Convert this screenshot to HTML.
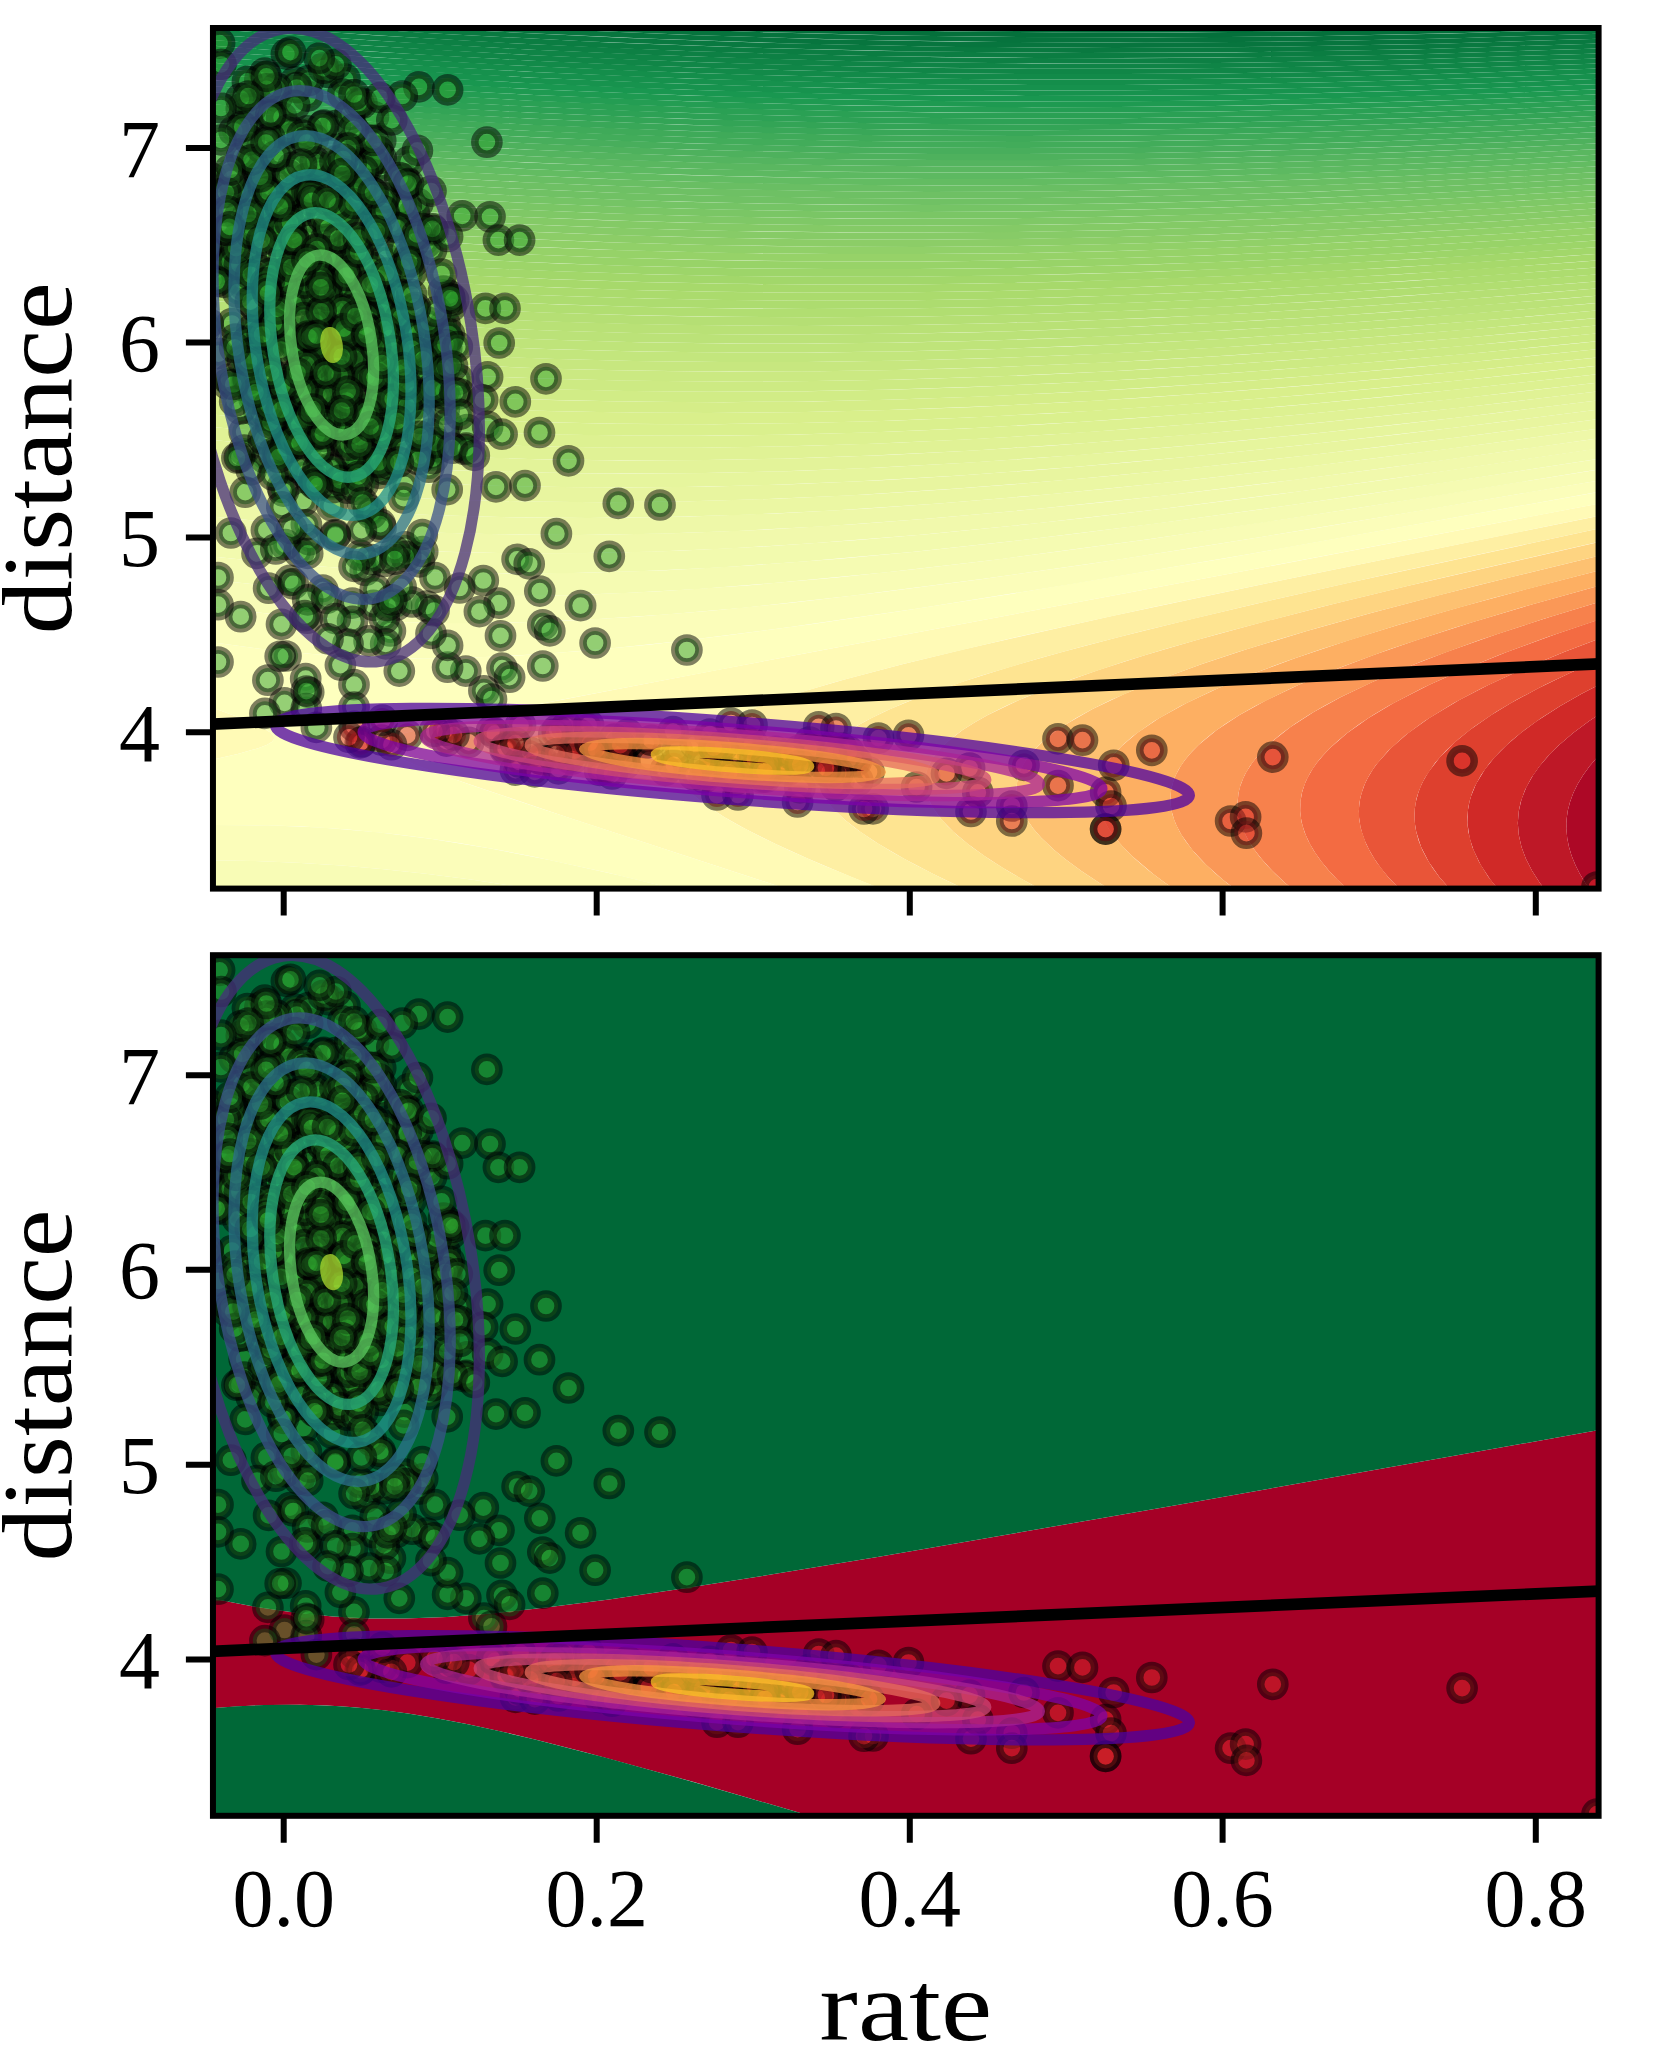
<!DOCTYPE html><html><head><meta charset="utf-8"><title>rate vs distance</title><style>html,body{margin:0;padding:0;background:#fff;}svg{display:block;}</style></head><body><svg width="1655" height="2061" viewBox="0 0 1655 2061"><defs><clipPath id="cA"><rect x="212.95" y="28.00" width="1385.65" height="860.60"/></clipPath></defs><rect width="1655" height="2061" fill="#fff"/><g clip-path="url(#cA)"><path fill="#ad0826" d="M1605 749.3 1605 895 1593.9 895 1585.4 883 1579.9 874 1575.4 865 1571.7 856 1569 847 1567.2 838 1566.4 829 1566.5 820 1567.7 811 1570 802 1573.3 793 1577.7 784 1583.2 775 1589.7 766 1597.4 757Z"/><path fill="#be1827" d="M1605 710.5 1605 749.3 1597.4 757 1589.7 766 1583.2 775 1577.7 784 1573.3 793 1570 802 1567.7 811 1566.5 820 1566.4 829 1567.2 838 1569 847 1571.7 856 1575.4 865 1579.9 874 1585.4 883 1593.9 895 1549.2 895 1539.9 883 1532.2 871 1526 859 1521.5 847 1518.8 835 1517.8 823 1518.8 811 1521.6 799 1526.4 787 1533.2 775 1539.6 766 1550 754 1560 744.3 1573.1 733 1589.2 721Z"/><path fill="#d02927" d="M1605 681.7 1605 710.5 1589.2 721 1573.1 733 1559.1 745 1547.2 757 1539 766.9 1531.3 778 1525 790 1520.7 802 1518.8 811 1517.8 823 1518.8 835 1521.5 847 1526 859 1532.2 871 1539.9 883 1549.2 895 1502.9 895 1490.6 880 1480.7 865 1473.5 850 1469.6 838 1467.4 823 1467.8 811 1469.4 802 1471.1 796 1476 784 1485.1 769 1494.8 757 1506.7 745 1520.7 733 1536.9 721 1560.2 706 1581.2 694Z"/><path fill="#de402e" d="M1604.9 657.6 1605 681.7 1581.2 694 1560.2 706 1541.3 718 1524.6 730 1512 740.3 1500.5 751 1489.7 763 1481.1 775 1474.6 787 1472.1 793 1469.4 802 1468.2 808 1467.4 817 1467.4 823 1468.4 832 1472.3 847 1479.1 862 1488.4 877 1502.9 895 1455.1 895 1439.3 877 1428.8 862 1421.1 847 1416.3 832 1414.8 823 1414.4 817 1414.9 808 1415.8 802 1418.2 793 1420.4 787 1423.2 781 1428.5 772 1440 757 1455 742.1 1469.7 730 1491.2 715 1510.9 703 1538.7 688 1569.8 673Z"/><path fill="#e95538" d="M1605 636.6 1604.9 657.6 1576.4 670 1544.6 685 1516.2 700 1495.9 712 1473.8 727 1458.6 739 1445.6 751 1435 763 1424.9 778 1421.8 784 1418.2 793 1416.4 799 1414.9 808 1414.4 817 1415.2 826 1416.3 832 1418.8 841 1422.4 850 1427.1 859 1432.7 868 1439.3 877 1455.1 895 1405.4 895 1388.1 877 1380.8 868 1374.5 859 1369.2 850 1364.9 841 1361.8 832 1360.3 826 1359 817 1359 808 1360.1 799 1361.6 793 1364.8 784 1367.7 778 1373.1 769 1377.5 763 1391 748 1408.2 733 1429.2 718 1459.2 700 1488.2 685 1520.7 670 1564.1 652Z"/><path fill="#f36b42" d="M1602 618.6 1605 617.6 1605 636.6 1564.1 652 1520.7 670 1482.2 688 1453.9 703 1424.7 721 1404.5 736 1388 751 1375.2 766 1369.4 775 1366.2 781 1363.6 787 1360.8 796 1359.6 802 1358.9 811 1359.3 820 1361 829 1366.2 844 1370.9 853 1376.5 862 1388.1 877 1405.4 895 1353.6 895 1337.6 880 1329.2 871 1321.7 862 1315.3 853 1309.9 844 1305.7 835 1302.6 826 1300.7 817 1300.2 811 1300.4 802 1301.9 793 1304.7 784 1307.4 778 1312.5 769 1316.7 763 1323 755.4 1330 748 1347.3 733 1368.5 718 1393.6 703 1428.8 685 1462.2 670 1506.8 652 1556.2 634Z"/><path fill="#f7814c" d="M1605 600.2 1605 617.6 1547.6 637 1499.1 655 1455.2 673 1422.6 688 1388.3 706 1373.2 715 1359.5 724 1347.3 733 1338 740.7 1330 748 1321.6 757 1316.7 763 1310.7 772 1306 781 1302.7 790 1301.2 796 1300.2 805 1300.4 814 1301.8 823 1304.5 832 1308.4 841 1313.4 850 1319.5 859 1326.6 868 1334.7 877 1353.6 895 1299.6 895 1285.2 883 1272.5 871 1261.6 859 1254.6 850 1248.8 841 1244.1 832 1240.6 823 1239 817 1237.7 808 1237.6 802 1238.5 793 1239.9 787 1243.3 778 1246.3 772 1252.1 763 1256.8 757 1263 750.2 1271.5 742 1290.5 727 1313.7 712 1341 697 1372.3 682 1407.5 667 1446.3 652 1497.3 634 1552.8 616Z"/><path fill="#fa9857" d="M1599 585.7 1605 584 1605 600.2 1543.3 619 1479.8 640 1422.6 661 1379.1 679 1341 697 1324.1 706 1308.7 715 1294.8 724 1282.4 733 1271.5 742 1262.2 751 1256.8 757 1250 766 1244.7 775 1240.9 784 1238.5 793 1237.6 802 1238 811 1239.7 820 1242.8 829 1247.1 838 1252.5 847 1259.1 856 1266.8 865 1275.5 874 1285.2 883 1299.6 895 1242.8 895 1223.2 880 1206.3 865 1192.3 850 1181.5 835 1176.7 826 1174.2 820 1171.6 811 1170.7 805 1170.4 796 1171.1 790 1173.4 781 1175.8 775 1180.7 766 1184.9 760 1191 752.7 1198.5 745 1216.7 730 1239.5 715 1266.7 700 1298.3 685 1334 670 1373.6 655 1416.8 640 1472.9 622 1533.4 604Z"/><path fill="#fdaf62" d="M1598.9 570.4 1604.9 568.9 1605 584 1523 607 1453.7 628 1390.4 649 1341.6 667 1312.1 679 1291.7 688 1255.3 706 1239.5 715 1225.3 724 1212.7 733 1201.8 742 1192.5 751 1184.9 760 1178.9 769 1174.5 778 1171.7 787 1170.4 796 1170.7 805 1172.3 814 1175.4 823 1179.8 832 1185.5 841 1194.9 853 1203.3 862 1216.1 874 1226.9 883 1242.8 895 1182.9 895 1165.3 883 1153.2 874 1132 856 1123 847 1115.3 838 1108.8 829 1103.8 820 1100.1 811 1098.5 805 1097.3 796 1097.5 790 1099 781 1101 775 1105.5 766 1109.4 760 1114.1 754 1122 745.7 1137 733 1159.3 718 1186.5 703 1218.5 688 1254.9 673 1295.6 658 1349.3 640 1398 625 1460.4 607 1526.7 589Z"/><path fill="#fdc171" d="M1599 555.8 1605 554.4 1604.9 568.9 1493.1 598 1398 625 1321.8 649 1287.1 661 1254.9 673 1211.8 691 1180.7 706 1154.4 721 1133.1 736 1122.7 745 1114.1 754 1107.3 763 1102.3 772 1099 781 1097.5 790 1097.5 799 1100.1 811 1103.8 820 1108.8 829 1115.3 838 1125.9 850 1135.2 859 1149.3 871 1165.3 883 1182.9 895 1119.3 895 1099.5 883 1081.4 871 1065.1 859 1054.2 850 1041.5 838 1033.6 829 1025.1 817 1020.6 808 1017.7 799 1016.8 793 1016.8 784 1017.8 778 1021 769 1024.1 763 1028.2 757 1033.1 751 1045.6 739 1056 731.1 1066.4 724 1092.6 709 1124.2 694 1160.8 679 1202 664 1247.4 649 1306.8 631 1371.1 613 1439.4 595 1511.2 577Z"/><path fill="#fed481" d="M1605 540.5 1605 554.4 1474.9 586 1371.1 613 1317.2 628 1276.5 640 1238 652 1202 664 1153.1 682 1110.9 700 1092.6 709 1076.2 718 1065 724.9 1053.3 733 1042.2 742 1033.1 751 1026 760 1021 769 1017.8 778 1016.6 787 1017.2 796 1018.5 802 1020.6 808 1025.1 817 1033.6 829 1041.5 838 1054.2 850 1065.1 859 1081.4 871 1099.5 883 1119.3 895 1051.1 895 1023.4 880 1003 868 984.4 856 967.9 844 953.6 832 941.9 820 933 808 928.4 799 925.7 790 925 784 925.7 775 927.3 769 931.6 760 935.8 754 940.9 748 947.1 742 962.6 730 975 722.2 987.8 715 1019.1 700 1056.1 685 1098.4 670 1145.4 655 1196.6 640 1262.7 622 1333.1 604 1407.2 586Z"/><path fill="#fee491" d="M1599 528.6 1605 527.3 1605 540.5 1432.6 580 1321.1 607 1218.1 634 1165.4 649 1126.1 661 1072.4 679 1026 697 1005.8 706 987.8 715 975 722.2 962.6 730 950.6 739 940.9 748 933.6 757 928.5 766 925.7 775 925 784 926.4 793 928.4 799 931.3 805 937.1 814 947.4 826 957 835 971.8 847 988.9 859 1008 871 1028.8 883 1051.1 895 977.4 895 964.4 889 933.2 874 904.5 859 878.7 844 860.5 832 845 820 832.4 808 827.3 802 823.2 796 818.7 787 816.7 778 816.6 772 817.8 766 820.1 760 823.7 754 828.5 748 834.5 742 841.9 736 860.3 724 871.4 718 890.2 709 919.3 697 961.5 682 1009.3 667 1062 652 1118.8 637 1191.4 619 1267.9 601 1347.5 583Z"/><path fill="#feefa3" d="M1596 516.4 1605 514.6 1605 527.3 1388.3 574 1254.9 604 1142.5 631 1084.3 646 1040.4 658 980 676 927.3 694 904.2 703 883.7 712 865.7 721 855.2 727 841.9 736 831.4 745 823.7 754 818.8 763 816.6 772 817.1 781 820 790 825.1 799 832.4 808 845 820 856.4 829 874 841 893.8 853 915.7 865 945.4 880 977.4 895 896.4 895 851.3 877 808.7 859 775.6 844 745.5 829 724.1 817 705.7 805 691 793 685.3 787 680.8 781 676.6 772 675.7 766 676.3 760 678.6 754 682.6 748 691.9 739 700.4 733 710.6 727 736 715 767.6 703 804.6 691 846.2 679 903.3 664 965 649 1111.7 616 1282.9 580Z"/><path fill="#fffab6" d="M1593 504.7 1605 502.5 1605 514.6 1297.6 577 1153.7 607 1016.8 637 903.3 664 835.4 682 785.5 697 743.4 712 722.5 721 710.6 727 699 734 688.4 742 680.4 751 678.6 754 676.3 760 675.8 763 676 769 679.1 778 685.3 787 694.3 796 705.7 805 724.1 817 739.9 826 763.2 838 788.5 850 822.5 865 896.4 895 805.3 895 566.5 817 450.9 778 418.2 766 396.9 757 386.6 751 383.5 748 382.5 745 384.2 742 388.6 739 395.7 736 405.1 733 441.5 724 514 709 717 670 1299 560.7ZM208.1 706 240.6 718 261.5 727 271.2 733 273.8 736 274.1 739 271.8 742 266.6 745 258.9 748 237.7 754 206.9 761 206.9 705.6Z"/><path fill="#feffbe" d="M1593 492.9 1605 490.7 1605 502.5 1302 560.1 796.4 655 560 700 484.2 715 441.5 724 405.1 733 395.7 736 388.6 739 384.2 742 382.5 745 383.5 748 386.6 751 391.2 754 403.5 760 426 769 468.1 784 539.3 808 805.3 895 699.2 895 609 872.9 534 856.7 494.9 849.2 458.9 843.1 428.9 838.6 392.9 833.9 347.9 829.5 302.9 826.5 254.9 825 206.9 825.1 206.9 761 237.7 754 258.9 748 266.6 745 271.8 742 274.1 739 273.8 736 271.2 733 261.5 727 240.6 718 206.9 705.6 206.9 641.6 257.9 648.6 311.9 654 362.9 657.2 413.9 658.4 467.9 657.7 522 655.3 585 650.8 651 644.4 726 635.6 813 623.9 903 610.7 1014 593.4 1224 558.5Z"/><path fill="#fbfdba" d="M1596 481 1605 479.4 1605 490.7 1248 554.3 1071 584.2 918 608.5 792 626.8 681 641 612 648.3 543 654 480 657.3 422.9 658.4 368.9 657.4 314.9 654.3 263.9 649.3 206.9 641.6 206.9 606.5 266.9 613.5 323.9 618.4 383.9 621.7 443.9 623.1 504 622.8 570 620.6 636 616.8 711 610.8 792 602.7 879 592.6 981 579.2 1089 563.9 1188 548.7 1317 527.9ZM209.9 825 266.9 825.2 320.9 827.5 377.9 832.3 431.9 839 488.9 848.2 552 860.4 621 875.7 699.2 895 566.6 895 519 886.8 470.9 879.5 425.9 873.7 383.9 869.2 341.9 865.5 296.9 862.7 251.9 860.9 206.9 860.1 206.9 825.1Z"/><path fill="#f8fcb6" d="M1602 468.9 1605 468.4 1605 479.4 1428 509.5 1266 536.2 1116 559.9 984 578.8 852 595.8 744 607.7 666 614.6 591 619.5 522 622.3 458.9 623.2 392.9 622 329.9 618.8 270 613.8 206.9 606.5 206.9 579.3 281.9 587.1 353.9 592.3 425.9 595.3 500.9 596.2 579 594.9 660 591.3 747 585.4 837 577.4 912 569.5 987 560.8 1062 551.1 1149 539.2 1353 508.8ZM209.9 860.1 254.9 861 296.9 862.7 341.9 865.5 383.9 869.2 425.9 873.7 470.9 879.5 519 886.8 566.6 895 361.5 895 284.9 889.9 206.9 887.4 206.9 860.1Z"/><path fill="#f5fbb2" d="M1593 459.7 1605 457.8 1605 468.4 1443 494.7 1290 518.5 1143 540 1002 558.9 885 572.4 780 582.6 699 588.9 621 593.3 546 595.7 476.9 596.2 407.9 594.8 341.9 591.6 275.9 586.6 206.9 579.3 206.9 556.1 278.9 563.4 356.9 569 431.9 572.3 506.9 573.5 585 572.8 666 570.2 750 565.5 840 558.7 915 551.7 996 543 1077 533.5 1167 522.1 1260 509.5 1365 494.5ZM209.9 887.4 287.9 890.1 361.5 895 206.9 895 206.9 887.4Z"/><path fill="#f2faae" d="M1601.9 447.9 1605 447.5 1605 457.8 1445.9 482.4 1302 503.6 1155 523.7 1029 539.3 912 552 804 561.6 720 567.4 639 571.3 564 573.2 491.9 573.4 419.9 571.9 347.9 568.5 275.9 563.1 206.9 556.1 206.9 535 284.9 542.7 359.9 548.1 437.9 551.7 516 553.3 597 553 678 550.7 764.9 546.4 854.9 540.2 930 533.9 1008 526.3 1089 517.5 1182 506.5 1278 494.2 1383 479.9Z"/><path fill="#f1f9ac" d="M1596 438.7 1605 437.4 1605 447.5 1446 471 1299 491.4 1161 509.1 1035 523.5 921 534.7 813 543.3 729 548.4 651 551.7 573 553.3 497.9 553.1 425.9 551.3 354 547.8 281.9 542.5 206.9 535 206.9 516.1 284.9 523.6 362.9 529.1 441 532.8 519 534.7 600 534.7 681 533 768 529.5 858 524 936 518.1 1020 510.6 1101 502.4 1191 492.4 1281 481.6 1386 468.1Z"/><path fill="#eef8a8" d="M1590 429.7 1605 427.6 1605 437.4 1439.9 460.8 1296 479.7 1167 495.2 1041 508.6 927 518.8 822 526.4 738 530.9 657 533.7 579 534.9 503.9 534.5 429 532.4 353.9 528.6 281.9 523.3 206.9 516.1 206.9 498.7 287.9 506.3 366 511.7 443.9 515.5 525 517.6 606 517.9 690 516.5 777 513.4 864 508.7 939 503.5 1020 496.9 1104 489.1 1190.9 480 1281 469.8 1377 458.1 1485 444.1Z"/><path fill="#ebf7a3" d="M1584 420.9 1605 418.1 1605 427.6 1446 449.3 1299 467.7 1170 482.3 1050 494.2 939 503.5 834 510.5 747 514.7 665.9 517.1 588 518 509.9 517.3 435 515.2 359.9 511.4 284.9 506 206.9 498.7 206.9 482.6 284.9 489.7 365.9 495.5 446.9 499.4 525 501.6 606 502.3 690 501.3 777 498.7 867 494.4 945 489.5 1026 483.3 1107 476.3 1194 467.8 1284 458.1 1380 447 1478.9 434.7Z"/><path fill="#e8f59f" d="M1605 408.7 1605 418.1 1455 437.7 1311 455.1 1188 468.4 1068 479.8 957 488.6 849 495.4 762 499.3 681 501.5 600 502.3 519 501.5 440.9 499.2 362.9 495.3 284.9 489.7 206.9 482.6 206.9 467.4 287.9 474.7 368.9 480.4 452.9 484.5 534 486.8 618 487.6 705 486.7 792 484.2 882 480.2 957 475.7 1038 469.9 1125 462.7 1209 454.8 1299 445.5 1398 434.4 1497 422.5Z"/><path fill="#e6f59d" d="M1602 400 1605 399.6 1605 408.7 1452 428 1317 443.6 1194 456.3 1074 467.1 960 475.5 855 481.6 768 485.1 684 487.1 603 487.6 522 486.6 444 484.1 362.9 480 284.9 474.5 206.9 467.4 206.9 453.1 290.9 460.5 371.9 466.1 452.9 470.2 537 472.7 621 473.7 708 473.1 795 470.9 885 467.3 966 462.8 1044 457.6 1131 450.7 1215 443.2 1305 434.4 1398 424.4 1497 412.9Z"/><path fill="#e3f399" d="M1605 390.6 1605 399.6 1461 417.2 1323 432.5 1200 444.6 1080 454.9 972 462.4 864 468.3 777 471.5 693 473.3 609 473.6 528 472.5 447 469.9 365.9 465.8 287.9 460.3 206.9 453.1 206.9 439.5 287.9 446.6 371.9 452.4 453 456.5 537 459.2 621 460.4 708 460.1 798 458.2 888 454.9 969 450.8 1047 445.9 1131 439.6 1221 432 1314 423.2 1407 413.6 1506 402.5Z"/><path fill="#e0f295" d="M1605 381.9 1605 390.6 1458 407.9 1320 422.6 1197 434.2 1083 443.3 975 450.4 867 455.8 780 458.7 693 460.3 608.9 460.3 528 459 446.9 456.3 365.9 452.1 287.9 446.6 206.9 439.5 206.9 426.5 290.9 433.8 374.9 439.6 455.9 443.7 540 446.4 624 447.8 711 447.6 801 446 891 443 969 439.3 1050 434.6 1134 428.7 1221 421.7 1311 413.6 1404 404.3 1506 393.3Z"/><path fill="#ddf191" d="M1584 375.7 1605 373.3 1605 381.9 1455 398.9 1314 413.3 1197 423.7 1083 432.4 972 439.2 867 443.9 780 446.5 696 447.8 612 447.7 531 446.2 450 443.4 368.9 439.2 287.9 433.6 206.9 426.5 206.9 414.1 290.9 421.3 371.9 426.9 455.9 431.2 540 434.1 624 435.6 711 435.7 798 434.4 887.9 431.8 966 428.4 1044 424.2 1125 418.9 1212 412.3 1302 404.7 1392 396.2 1485 386.6Z"/><path fill="#daf08d" d="M1587 366.9 1605 364.9 1605 373.3 1455 389.8 1314 403.6 1197 413.5 1083 421.7 975 428 870 432.4 783 434.7 696 435.8 612 435.5 531 433.9 449.9 430.9 368.9 426.7 290.9 421.3 206.9 414.1 206.9 402.1 293.9 409.5 374.9 415 458.9 419.4 543 422.3 627 423.9 714 424.2 801 423.1 891 420.7 969 417.5 1050 413.4 1133.9 408.1 1218 402 1305 394.9 1395 386.7 1488 377.5Z"/><path fill="#d9ef8b" d="M1593 357.9 1605 356.6 1605 364.9 1461 380.2 1323 393.3 1203 403.2 1092 410.9 981 417 876 421.2 789 423.3 702 424.2 618 423.8 534 422.1 453 419.1 368.9 414.6 290.9 409.3 206.9 402.1 206.9 390.5 293.9 397.9 377.9 403.6 462 407.9 546 410.9 630 412.6 717 413 807 412.1 897 409.8 975 406.9 1059 402.7 1140 397.9 1224 392 1308 385.4 1401 377.2 1494 368.2Z"/><path fill="#d5ed88" d="M1602 348.8 1605 348.5 1605 356.6 1464 371.2 1329 383.6 1209 393.1 1095 400.7 987 406.3 882 410.3 795 412.3 708 413 621 412.5 537 410.7 452.9 407.5 371.9 403.2 290.9 397.7 206.9 390.5 206.9 379.4 290.9 386.4 377.9 392.4 462 396.8 549 399.9 636 401.7 723 402.2 813 401.4 903 399.3 981 396.5 1062 392.7 1146 387.9 1230 382.2 1320 375.3 1407 367.9 1503 358.9Z"/><path fill="#d1ec86" d="M1581 342.9 1605 340.5 1605 348.5 1461 362.9 1320 375.3 1203 384.1 1089 391.3 984 396.4 879 400 792 401.7 705 402.2 621 401.5 537 399.6 452.9 396.4 371.9 392 291 386.4 206.9 379.4 206.9 368.5 290.9 375.6 375 381.3 461.9 386 546 389.1 633 391.1 720 391.8 807 391.2 897 389.4 975 386.9 1053 383.5 1134 379.2 1218 373.9 1305 367.6 1395 360.3 1485 352.3Z"/><path fill="#cdea83" d="M1593 333.8 1605 332.6 1605 340.5 1464 354.2 1326 366 1209 374.6 1098 381.2 990 386.3 885 389.7 798 391.3 711 391.8 624 390.9 540 388.9 456 385.7 372 381.2 287.9 375.4 206.9 368.5 206.9 358 293.9 365.3 377.9 371 461.9 375.4 549 378.8 636 380.8 723 381.6 813 381.1 903 379.5 981 377.1 1062 373.7 1146 369.4 1227 364.4 1311 358.5 1404 351.1 1500 342.7Z"/><path fill="#cbe982" d="M1605 324.8 1605 332.6 1469.9 345.4 1335 356.7 1218 365 1107 371.5 996 376.5 891 379.7 801 381.3 714 381.6 627 380.7 543 378.6 458.9 375.3 375 370.8 290.9 365 206.9 358 206.9 347.8 291 354.8 377.9 360.7 464.9 365.4 552 368.7 639 370.8 729 371.7 819 371.3 909 369.8 990 367.4 1071 364.1 1155 359.9 1242 354.7 1332 348.4 1419 341.6 1512 333.6Z"/><path fill="#c7e77f" d="M1587 318.9 1605 317.2 1605 324.8 1460.9 338.1 1326 348.9 1212 356.6 1101 362.7 993 367.3 888 370.2 801 371.5 714 371.6 627 370.6 543 368.4 458.9 365.1 374.9 360.5 291 354.8 206.9 347.8 206.9 337.9 290.9 344.8 377.9 350.8 464.9 355.4 549 358.7 636 361 723 362 813 361.9 903 360.6 981 358.5 1062 355.5 1146 351.6 1227 347.1 1314 341.4 1401 335 1494 327.3Z"/><path fill="#c3e67d" d="M1602 310 1605 309.7 1605 317.2 1470 329.4 1338 339.7 1220.9 347.4 1110 353.4 1002 357.8 897 360.7 807 361.9 720 362 633 360.9 546 358.7 461.9 355.3 374.9 350.6 290.9 344.8 206.9 337.9 206.9 328.2 293.9 335.3 380.9 341.2 465 345.7 552 349.2 639 351.5 729 352.6 819 352.5 909 351.3 990 349.3 1071 346.4 1155 342.6 1239 337.9 1326 332.4 1415.9 325.8 1508.9 318.3Z"/><path fill="#bfe47a" d="M1587 303.9 1605 302.3 1605 309.7 1467 321.8 1329 332.2 1218 339.2 1107 344.8 999 349 894 351.6 804 352.6 717 352.5 630 351.3 546 349 461.9 345.6 377.9 341 293.9 335.3 206.9 328.2 206.9 318.7 293.9 325.8 380.9 331.7 464.9 336.3 552 339.8 639 342.2 726 343.4 816 343.5 906 342.4 984 340.7 1065 338 1146 334.6 1233 330 1320 324.7 1407 318.6Z"/><path fill="#bbe278" d="M1572 297.9 1605 295 1605 302.3 1461 314.5 1320 324.7 1206 331.5 1098 336.7 990 340.5 888 342.7 801 343.5 714 343.3 627 341.9 543 339.5 458.9 336 374.9 331.3 290.9 325.6 206.9 318.7 206.9 309.5 293.9 316.5 377.9 322.3 462 326.9 549 330.5 636 333 723 334.3 810 334.6 900 333.8 978 332.2 1059 329.8 1140 326.5 1221 322.6 1305 317.7 1392 312Z"/><path fill="#b9e176" d="M1593 288.8 1605 287.8 1605 295 1470 306.2 1335 315.8 1221 322.6 1110 327.8 1002 331.6 897 333.8 807 334.6 720 334.3 633 332.9 546 330.4 461.9 326.9 377.9 322.3 293.9 316.5 206.9 309.5 206.9 300.4 293.9 307.5 380.9 313.4 464.9 318 552 321.6 639 324.1 729 325.6 819 325.9 909 325.1 990 323.5 1071 321 1152 317.9 1236 313.8 1322.9 308.8 1410 303.1 1500 296.4Z"/><path fill="#b5df74" d="M1578 283 1605 280.7 1605 287.8 1461 299.4 1326 308.6 1215 314.9 1104 319.8 999 323.2 894 325.3 804 325.9 717 325.4 630 323.9 546 321.4 461.9 317.8 377.9 313.2 293.9 307.5 206.9 300.4 206.9 291.5 293.9 298.6 380.9 304.5 464.9 309.1 552 312.8 639 315.4 726 316.9 816 317.3 906 316.7 984 315.3 1065 313.1 1146 310.1 1230 306.2 1314 301.7 1401 296.2Z"/><path fill="#b1de71" d="M1602 274 1605 273.7 1605 280.7 1473 291.1 1341 300 1227 306.4 1116 311.3 1008 314.7 903 316.7 813 317.3 723 316.8 636 315.3 549 312.7 461.9 308.9 377.9 304.3 293.9 298.6 206.9 291.5 206.9 282.9 296.9 290.1 383.9 295.9 470.9 300.7 558 304.4 645 306.9 735 308.5 825 308.9 915 308.3 996 306.9 1077 304.7 1161 301.6 1245 297.8 1332 293 1418.9 287.6Z"/><path fill="#addc6f" d="M1590 268 1605 266.8 1605 273.7 1467 284.3 1332 293 1221 299 1113 303.5 1005 306.7 900 308.5 810 308.9 723 308.3 636 306.7 549 304 461.9 300.3 377.9 295.6 293.9 289.9 206.9 282.9 206.9 274.3 293.9 281.3 380.9 287.2 467.9 292 555 295.8 645 298.5 732 300.1 822 300.7 912 300.2 993 299 1074 296.9 1155 294.1 1239 290.5 1410 280.9Z"/><path fill="#abdb6d" d="M1581 261.8 1605 259.9 1605 266.8 1464 277.3 1332 285.6 1221 291.3 1110 295.8 1005 298.7 900 300.4 810 300.7 723 300 636 298.3 549 295.5 461.9 291.7 377.9 287 293.9 281.3 206.9 274.3 206.9 266 293.9 272.9 381 278.8 467.9 283.7 555 287.4 642 290.2 729 291.9 819 292.6 909 292.3 987 291.2 1068 289.3 1149 286.7 1233 283.3 1401 274.3Z"/><path fill="#a7d96b" d="M1568.9 255.9 1605 253.2 1605 259.9 1463.9 270.2 1323 278.8 1212 284.2 1104 288.3 999 291 894 292.4 804 292.5 717 291.7 630 289.9 546 287.1 461.9 283.4 374.9 278.5 290.9 272.7 206.9 266 206.9 257.8 290.9 264.5 377.9 270.4 464.9 275.3 552 279.2 639 282 726 283.8 816 284.6 906 284.4 984 283.5 1065 281.8 1226.9 276.1 1395 267.5Z"/><path fill="#a2d76a" d="M1599 247 1605 246.5 1605 253.2 1470 262.8 1341 270.6 1230 276 1119 280.2 1014 282.9 909 284.4 819 284.6 729 283.8 642 282.1 555 279.3 467.9 275.5 380.9 270.6 293.9 264.7 206.9 257.8 206.9 249.7 296.9 256.8 383.9 262.7 470.9 267.5 558 271.3 648 274.2 735 276 825 276.8 918 276.6 999 275.6 1080 273.9 1161 271.4 1245 268.1 1416 259.3Z"/><path fill="#9dd569" d="M1593 240.8 1605 239.9 1605 246.5 1470 255.9 1338 263.6 1227 268.9 1119 272.8 1011 275.4 906 276.7 816 276.8 729 275.9 642 274.1 555 271.2 467.9 267.4 380.9 262.5 293.9 256.6 206.9 249.7 207 241.7 293.9 248.7 380.9 254.6 470.9 259.6 558 263.4 645 266.3 735 268.2 825 269.1 915 269 996 268.2 1077 266.5 1158 264.2 1242 261 1329 257.1 1415.9 252.4Z"/><path fill="#98d368" d="M209.9 234.2 287.9 240.4 365.9 245.8 443.9 250.4 522 254.2 600 257.2 678 259.4 756 260.9 837 261.6 927 261.5 1020 260.4 1113 258.3 1206 255.4 1302 251.4 1401 246.4 1503 240.3 1605 233.4 1605 239.9 1500 247.2 1398 253.4 1299 258.5 1200 262.7 1104 265.8 1011 267.9 918 269 828 269.1 726 268.1 624 265.7 525 262.1 423 257 314.9 250.2 207 241.7 206.9 233.9Z"/><path fill="#96d268" d="M209.9 226.5 287.9 232.7 362.9 237.9 440.9 242.5 519 246.4 597 249.4 678 251.8 756 253.3 837 254.1 927 254.1 1017 253.2 1110 251.2 1206 248.3 1302 244.5 1401 239.6 1503 233.7 1605 226.9 1605 233.4 1503 240.3 1401 246.4 1302 251.4 1203 255.5 1107 258.5 1014 260.5 921 261.5 828 261.6 723 260.3 621 257.9 522 254.2 419.9 249.1 314.9 242.3 206.9 233.9 206.9 226.2Z"/><path fill="#91d068" d="M209.9 218.9 287.9 225.1 365.9 230.5 444 235.1 522 239 600 242 678 244.3 756 245.9 837 246.8 927 246.8 1020 245.9 1113 244.1 1206 241.4 1302 237.7 1401 232.9 1503 227.2 1605 220.5 1605 226.9 1503 233.7 1401 239.6 1299 244.6 1203 248.4 1107 251.3 1014 253.2 921 254.1 831 254.1 729 252.9 627 250.4 525 246.6 422.9 241.5 314.9 234.6 206.9 226.2 206.9 218.7Z"/><path fill="#8ccd67" d="M209.9 211.4 287.9 217.6 365.9 223 444 227.6 522 231.5 600 234.6 681 237 759 238.6 840 239.5 930 239.7 1023 238.8 1116 237.1 1209 234.4 1305 230.8 1401 226.3 1500 220.9 1605 214.2 1605 220.5 1500 227.4 1398 233.1 1302 237.7 1203 241.5 1107 244.2 1014 246 921 246.9 831 246.7 726 245.4 624 242.8 525 239.1 422.9 233.9 314.9 227 206.9 218.7 206.9 211.2Z"/><path fill="#87cb67" d="M209.9 204.1 287.9 210.2 365.9 215.6 443.9 220.3 522 224.2 600 227.3 681 229.8 759 231.4 840 232.4 930 232.6 1023 231.8 1116 230.2 1209 227.6 1305 224.1 1404 219.7 1503 214.3 1605 208 1605 214.2 1500 220.9 1401 226.3 1302 230.9 1206 234.5 1110 237.2 1017 238.9 924 239.7 831 239.5 729 238.1 626.9 235.5 525 231.6 425.9 226.6 314.9 219.6 206.9 211.2 206.9 203.8Z"/><path fill="#84ca66" d="M209.9 196.8 287.9 203 365.9 208.4 443.9 213 522 216.9 603 220.2 681 222.6 759 224.3 840 225.3 930 225.6 1023 224.9 1116 223.4 1209 220.9 1305 217.6 1404 213.2 1506 207.8 1605 201.8 1605 208 1503 214.3 1404 219.7 1305 224.1 1206 227.7 1110 230.3 1017 231.9 924 232.6 834 232.3 729 230.9 627 228.2 525 224.3 425.9 219.3 317.9 212.4 206.9 203.8 206.9 196.6Z"/><path fill="#7fc866" d="M209.9 189.7 287.9 195.8 365.9 201.2 443.9 205.9 522 209.8 600 213 681 215.5 762 217.3 840 218.4 930 218.7 1023 218.1 1116 216.7 1209 214.3 1305 211.1 1404 206.8 1506 201.6 1604.9 195.7 1605 201.8 1500 208.2 1401 213.3 1302 217.7 1206 221 1110 223.5 1017 225 924 225.6 834 225.3 732 223.8 630 221.1 528 217.2 425.9 212 318 205.1 206.9 196.6 206.9 189.4Z"/><path fill="#7ac665" d="M209.9 182.6 287.9 188.7 365.9 194.1 443.9 198.8 522 202.7 603 206.1 681 208.6 759 210.3 840 211.5 930 211.9 1023 211.4 1116 210 1212 207.7 1308 204.5 1404 200.5 1505.9 195.4 1605 189.6 1604.9 195.7 1503 201.7 1401 207 1302 211.2 1206 214.4 1110 216.8 1017 218.2 924 218.7 834 218.3 729 216.7 627 213.9 525 209.9 425.9 204.8 314.9 197.8 206.9 189.4 206.9 182.4Z"/><path fill="#75c465" d="M209.9 175.6 287.9 181.7 365.9 187.1 443.9 191.8 522 195.8 603 199.1 681 201.7 759 203.5 840 204.7 930 205.1 1022.9 204.7 1116 203.5 1212 201.2 1308 198.2 1404 194.2 1503 189.4 1605 183.6 1605 189.6 1505.9 195.4 1403.9 200.5 1305 204.6 1209 207.8 1113 210.1 1020 211.4 927 211.9 834 211.4 729 209.7 627 206.9 528 203 425.9 197.8 317.9 190.9 206.9 182.4 206.9 175.4Z"/><path fill="#70c164" d="M209.9 168.7 287.9 174.8 365.9 180.2 447 185.1 525 189 603 192.3 684 194.9 843 198 933 198.5 1026 198.1 1119 196.9 1212 194.8 1308 191.9 1404 188.1 1503 183.3 1605 177.6 1605 183.6 1503 189.4 1404 194.2 1305 198.3 1209 201.3 1113 203.5 1020 204.8 927 205.1 837 204.6 735 203 633 200.2 531 196.2 428.9 191 317.9 183.9 206.9 175.4 206.9 168.5Z"/><path fill="#6ec064" d="M209.9 161.9 365.9 173.4 446.9 178.3 525 182.3 603 185.5 684 188.2 843 191.3 933 191.9 1026 191.6 1119 190.5 1212 188.5 1308 185.6 1404 181.9 1503 177.3 1605 171.7 1605 177.6 1503 183.3 1404 188.1 1305 192 1209 194.9 1113 197 1020 198.2 927 198.5 837 197.9 735 196.2 633 193.4 531 189.3 428.9 184.1 317.9 177 206.9 168.5 206.9 161.7Z"/><path fill="#69be63" d="M209.9 155.2 290.9 161.5 368.9 166.9 525 175.5 606 179 684 181.5 843 184.8 933 185.4 1026 185.2 1119 184.1 1212 182.2 1308 179.5 1404 175.9 1503 171.3 1605 165.9 1605 171.7 1503 177.3 1404 181.9 1305 185.7 1209 188.6 1113 190.6 1020 191.7 927 191.9 837 191.3 732 189.4 630 186.5 528 182.4 425.9 177.1 317.9 170.2 206.9 161.7 206.9 155Z"/><path fill="#63bc62" d="M209.9 148.6 290.9 154.9 368.9 160.2 525 168.9 681 174.9 762 176.9 843 178.3 933 179 1026 178.8 1119 177.9 1212 176 1308 173.3 1404 169.8 1503 165.4 1605 160.1 1605 165.9 1503 171.3 1404 175.9 1305 179.6 1209 182.3 1113 184.2 1020 185.3 927 185.4 837 184.7 735 182.9 633 179.9 531 175.8 428.9 170.5 317.9 163.5 206.9 155 206.9 148.3Z"/><path fill="#5db961" d="M209.9 142 366 153.5 446.9 158.3 525 162.4 684 168.5 843 171.9 933 172.6 1026 172.6 1119 171.6 1212 169.9 1308 167.3 1404 163.9 1506 159.4 1605 154.3 1605 160.1 1503 165.4 1404 169.8 1305 173.4 1209 176.1 1113 177.9 1020 178.9 927 179 836.9 178.2 735 176.3 633 173.3 531 169.2 428.9 163.9 317.9 156.8 206.9 148.3 206.9 141.8Z"/><path fill="#5ab760" d="M209.9 135.5 365.9 147 525 155.9 684 162 843 165.5 933 166.3 1026 166.3 1119 165.5 1212 163.8 1308 161.3 1404 158 1506 153.6 1605 148.6 1605 154.3 1506 159.4 1403.9 163.9 1305 167.4 1208.9 170 1113 171.7 1019.9 172.6 927 172.6 837 171.8 735 169.9 633 166.8 531 162.6 428.9 157.3 317.9 150.2 206.9 141.8 206.9 135.3Z"/><path fill="#54b45f" d="M209.9 129.1 365.9 140.5 525 149.5 684 155.7 846 159.3 936 160.1 1029 160.1 1122 159.3 1215 157.7 1311 155.3 1407 152 1506 147.9 1605 143 1605 148.6 1506 153.6 1404 158 1308 161.3 1212 163.8 1116 165.5 1023 166.3 929.9 166.3 840 165.5 735 163.4 633 160.4 531 156.2 428.9 150.8 317.9 143.7 206.9 135.3 206.9 128.8Z"/><path fill="#4eb15d" d="M209.9 122.7 368.9 134.4 528 143.3 687 149.5 846 153 935.9 153.9 1029 154 1122 153.3 1215 151.8 1311 149.4 1407 146.2 1503 142.3 1605 137.4 1605 143 1506 147.9 1404 152.1 1308 155.4 1212 157.8 1116 159.4 1022.9 160.2 930 160.1 840 159.2 738 157.2 633 154 531 149.7 428.9 144.4 317.9 137.3 206.9 128.8 206.9 122.5Z"/><path fill="#48ae5c" d="M209.9 116.4 368.9 128.1 528 137 687 143.2 846 146.9 936 147.8 1029 148 1122 147.3 1215 145.9 1311 143.6 1407 140.5 1503 136.7 1604.9 131.8 1605 137.4 1503 142.3 1404 146.3 1308 149.5 1212 151.8 1116 153.4 1023 154.1 930 153.9 840 153 735 150.8 633 147.7 531 143.4 429 138 318 130.9 206.9 122.5 206.9 116.2Z"/><path fill="#42ac5a" d="M209.9 110.2 368.9 121.8 528 130.8 687 137.1 846 140.8 936 141.8 1028.9 142 1122 141.4 1215 140 1310.9 137.8 1407 134.8 1506 130.9 1605 126.3 1604.9 131.8 1503 136.7 1407 140.5 1308 143.6 1212 145.9 1116 147.4 1023 148 930 147.8 840 146.8 735 144.6 633 141.4 531 137.1 428.9 131.7 317.9 124.6 206.9 116.2 207 110Z"/><path fill="#3faa59" d="M209.9 104 368.9 115.6 528 124.6 687 131 846 134.7 936 135.8 1029 136.1 1122 135.5 1215 134.2 1311 132.1 1407 129.1 1506 125.4 1605 120.8 1605 126.3 1506 130.9 1407 134.8 1308 137.9 1212 140.1 1116 141.5 1023 142 930 141.7 840 140.7 735 138.5 633 135.2 531 130.9 428.9 125.5 317.9 118.4 207 110 206.9 103.8Z"/><path fill="#39a758" d="M209.9 97.9 368.9 109.5 528 118.5 687 124.9 846 128.8 936 129.9 1029 130.2 1122 129.7 1215 128.5 1311 126.4 1406.9 123.5 1506 119.8 1605 115.4 1605 120.8 1506 125.4 1407 129.1 1311 132.1 1215 134.2 1119 135.6 1026 136.1 933 135.8 843 134.7 738 132.4 636 129.2 534 124.9 431.9 119.5 320.9 112.4 206.9 103.8 206.9 97.7Z"/><path fill="#33a456" d="M209.9 91.9 368.9 103.5 528 112.5 687 118.9 846 122.8 936 124 1029 124.3 1122 123.9 1218 122.7 1314 120.7 1410 117.9 1506 114.4 1605 110 1605 115.4 1506 119.8 1407 123.5 1311 126.4 1214.9 128.5 1119 129.7 1026 130.2 933 129.8 843 128.7 738 126.4 636 123.1 534 118.8 432 113.4 321 106.3 206.9 97.7 206.9 91.7Z"/><path fill="#2da155" d="M209.9 85.9 368.9 97.5 528 106.5 687 113 846 117 936 118.1 1029 118.6 1122 118.2 1218 117 1311 115.2 1406.9 112.5 1506 108.9 1605 104.7 1605 110 1506 114.4 1407 118 1311 120.7 1215 122.7 1119 124 1026 124.3 933 123.9 843 122.8 738 120.4 636 117.1 534 112.8 431.9 107.4 320.9 100.3 206.9 91.7 206.9 85.7Z"/><path fill="#2aa054" d="M209.9 80 368.9 91.5 528 100.6 687 107.1 846 111.1 936 112.4 1029 112.8 1122 112.5 1218 111.4 1314 109.5 1410 106.9 1506 103.6 1605 99.4 1605 104.7 1506 108.9 1406.9 112.5 1311 115.2 1215 117.1 1119 118.2 1026 118.6 933 118.1 843 116.9 738 114.5 636 111.2 534 106.8 431.9 101.4 320.9 94.3 206.9 85.7 206.9 79.7Z"/><path fill="#249d53" d="M209.9 74.1 369 85.7 528 94.7 687 101.3 848.9 105.4 939 106.7 1032 107.2 1125 106.9 1218 105.9 1314 104.1 1410 101.5 1506 98.2 1605 94.1 1605 99.4 1506 103.6 1407 107 1311 109.6 1215 111.5 1119 112.6 1026 112.8 933 112.3 843 111.1 738 108.7 636 105.3 534 100.9 432 95.4 320.9 88.3 206.9 79.7 206.9 73.8Z"/><path fill="#1e9a51" d="M209.9 68.3 368.9 79.8 528 88.9 687 95.5 849 99.7 939 101 1032 101.5 1125 101.3 1217.9 100.4 1314 98.6 1410 96.1 1506 92.9 1605 88.9 1605 94.1 1506 98.2 1407 101.6 1311 104.1 1215 105.9 1119 106.9 1025.9 107.2 933 106.6 843 105.3 738 102.8 636 99.4 534 95 431.9 89.5 320.9 82.4 206.9 73.8 206.9 68Z"/><path fill="#199750" d="M209.9 62.5 368.9 74 528 83.1 687 89.7 849 94 939 95.4 1032 96 1125 95.8 1218 94.9 1314 93.2 1410 90.8 1506 87.6 1605 83.7 1605 88.9 1506 92.9 1407 96.2 1311 98.7 1215 100.4 1119 101.4 1026 101.5 933 100.9 843 99.6 741 97.2 636 93.6 534 89.2 431.9 83.7 320.9 76.6 206.9 68 206.9 62.2Z"/><path fill="#17934e" d="M209.9 56.8 368.9 68.3 528 77.4 687 84.1 849 88.4 939 89.8 1032 90.4 1125 90.3 1218 89.4 1313.9 87.8 1410 85.5 1506 82.4 1605 78.5 1605 83.7 1506 87.6 1407 90.8 1311 93.3 1215 94.9 1119 95.8 1026 95.9 933 95.3 843 93.9 741 91.4 636 87.9 534 83.4 431.9 77.9 320.9 70.8 206.9 62.2 206.9 56.5Z"/><path fill="#16914d" d="M209.9 51.1 368.9 62.6 528 71.7 687 78.4 849 82.8 939 84.2 1032 84.9 1125 84.9 1218 84.1 1314 82.5 1410 80.2 1605 73.4 1605 78.5 1506 82.4 1410 85.5 1314 87.8 1218 89.4 1122 90.3 1029 90.4 936 89.7 846 88.3 741 85.8 638.9 82.3 534 77.7 431.9 72.2 320.9 65.1 206.9 56.5 206.9 50.8Z"/><path fill="#148e4b" d="M209.9 45.5 368.9 57 528 66.1 687 72.8 849 77.3 939 78.7 1032 79.5 1125 79.4 1218 78.7 1314 77.2 1410 75 1605 68.3 1605 73.4 1410 80.2 1314 82.5 1218 84.1 1122 84.9 1029 84.9 936 84.2 846 82.8 741 80.2 639 76.7 534 72 431.9 66.5 320.9 59.4 206.9 50.8 206.9 45.2Z"/><path fill="#128a49" d="M209.9 39.9 368.9 51.4 528 60.5 687 67.3 849 71.8 939 73.3 1032 74.1 1125 74.1 1218 73.4 1314 72 1410 69.8 1605 63.2 1605 68.3 1410 75 1314 77.2 1218 78.7 1125 79.4 1032 79.5 939 78.7 846 77.2 741 74.6 639 71.1 537 66.6 434.9 61.1 320.9 53.8 206.9 45.2 206.9 39.6Z"/><path fill="#108647" d="M209.9 34.3 368.9 45.8 528 55 687 61.8 849 66.3 939 67.9 1031.9 68.7 1124.9 68.8 1218 68.1 1314 66.7 1410 64.6 1605 58.2 1605 63.2 1410 69.8 1314 72 1218 73.4 1125 74.1 1032 74.1 939 73.3 846 71.7 741 69.1 639 65.5 537 61 434.9 55.5 320.9 48.2 206.9 39.6 206.9 34.1Z"/><path fill="#0f8446" d="M209.9 28.8 368.9 40.3 528 49.5 687 56.3 849 60.9 939 62.5 1032 63.4 1125 63.5 1218 62.9 1314 61.6 1410 59.5 1605 53.2 1605 58.2 1410 64.6 1314 66.7 1217.9 68.1 1122 68.8 1029 68.7 936 67.8 846 66.3 741 63.6 639 60 537 55.4 434.9 49.9 320.9 42.6 206.9 34.1 206.9 28.6Z"/><path fill="#0d8044" d="M209.9 23.4 369 34.9 528 44.1 687 50.9 849 55.6 942 57.2 1035 58.1 1128 58.2 1220.9 57.7 1410 54.4 1605 48.3 1605 53.2 1410 59.5 1314 61.6 1218 62.9 1122 63.5 1029 63.3 936 62.4 846 60.9 744 58.2 639 54.5 537 50 434.9 44.4 320.9 37.1 206.9 28.6 206.9 23.1Z"/><path fill="#0b7d42" d="M209.9 22 262.2 22 434.9 33.6 609 42.5 744 47.5 882 50.9 1059 52.9 1236 52.4 1419 49.2 1605 43.4 1605 48.3 1418.9 54.2 1236 57.5 1056 58.2 879 56.2 789 54.1 699 51.4 609 47.9 522 43.8 419.9 38.1 317.9 31.5 206.9 23.1 206.9 22Z"/><path fill="#097940" d="M263.9 22 337.4 22 479.9 30.8 627 37.9 774 43.1 921 46.3 1089 47.8 1257 47 1428 43.9 1605 38.5 1605 43.4 1428 48.9 1254 52.2 1086 53 918 51.6 753 47.7 588 41.5 419.9 32.7Z"/><path fill="#07753e" d="M338.9 22 420.5 22 555 29.3 690 35 824.9 39.2 960 41.7 1119 42.7 1278 41.7 1440 38.7 1605 33.6 1605 38.5 1437 43.7 1275 46.8 1116 47.9 957 46.9 801 43.8 645 38.6 488.9 31.3Z"/><path fill="#06733d" d="M422.9 22 514.5 22 636 27.7 759 32.1 882 35.2 1005 37 1152 37.6 1299 36.4 1452 33.4 1604.9 28.8 1605 33.6 1449 38.4 1296 41.5 1146 42.7 999 42.1 852 39.8 705 35.6 558 29.5Z"/><path fill="#04703b" d="M516 22 625.3 22 732 26 837 29 945 31.2 1053 32.3 1188 32.4 1326 31 1464 28.2 1605 24 1604.9 28.8 1463.9 33.1 1323 36.1 1185 37.5 1047 37.4 912 35.8 777 32.6 642 27.9Z"/><path fill="#026c39" d="M627 22 767.6 22 939 26 1110 27.5 1209 27.3 1311 26.3 1413 24.6 1515.9 22 1605 22 1605 24 1476 27.9 1349.9 30.7 1227 32.2 1104 32.5 981 31.7 861 29.6 741 26.3Z"/><path fill="#006837" d="M768 22 1026.5 22 1140 22.5 1257 22 1515.9 22 1326 26.1 1137 27.5 1044 27.2 951 26.1 858 24.4Z"/><g><g fill="#2ca02c" fill-opacity=".5" stroke="#000" stroke-opacity=".5" stroke-width="7.5"><circle cx="302" cy="418.2" r="12.1"/><circle cx="305.1" cy="274.9" r="12.1"/><circle cx="312.4" cy="385" r="12.1"/><circle cx="277.4" cy="307.3" r="12.1"/><circle cx="277.7" cy="180.3" r="12.1"/><circle cx="326.8" cy="424.8" r="12.1"/><circle cx="441.2" cy="331.9" r="12.1"/><circle cx="309.6" cy="437.8" r="12.1"/><circle cx="365.2" cy="309.8" r="12.1"/><circle cx="396.2" cy="295" r="12.1"/><circle cx="288.9" cy="206.3" r="12.1"/><circle cx="381.2" cy="352.3" r="12.1"/><circle cx="387.9" cy="381.6" r="12.1"/><circle cx="244.6" cy="285.6" r="12.1"/><circle cx="328.5" cy="349.8" r="12.1"/><circle cx="419.4" cy="561.8" r="12.1"/><circle cx="414.9" cy="363.8" r="12.1"/><circle cx="261.2" cy="322.3" r="12.1"/><circle cx="387.3" cy="432.1" r="12.1"/><circle cx="271" cy="319.2" r="12.1"/><circle cx="383.5" cy="450.1" r="12.1"/><circle cx="295" cy="81.9" r="12.1"/><circle cx="360.9" cy="182.3" r="12.1"/><circle cx="430.9" cy="445.9" r="12.1"/><circle cx="296.8" cy="404.2" r="12.1"/><circle cx="266.5" cy="413.3" r="12.1"/><circle cx="365.2" cy="570.4" r="12.1"/><circle cx="201.1" cy="304.3" r="12.1"/><circle cx="426.7" cy="606" r="12.1"/><circle cx="430.7" cy="453.1" r="12.1"/><circle cx="295.2" cy="408" r="12.1"/><circle cx="255.2" cy="225.7" r="12.1"/><circle cx="294" cy="253" r="12.1"/><circle cx="377.8" cy="374.6" r="12.1"/><circle cx="417.1" cy="330.9" r="12.1"/><circle cx="365.7" cy="463.8" r="12.1"/><circle cx="344.4" cy="291" r="12.1"/><circle cx="383.2" cy="297" r="12.1"/><circle cx="321.2" cy="216.3" r="12.1"/><circle cx="367.2" cy="321.3" r="12.1"/><circle cx="354" cy="241.7" r="12.1"/><circle cx="266.4" cy="530.2" r="12.1"/><circle cx="250.6" cy="197.1" r="12.1"/><circle cx="377.9" cy="344.9" r="12.1"/><circle cx="361.7" cy="466.2" r="12.1"/><circle cx="269.4" cy="323.2" r="12.1"/><circle cx="292.1" cy="301.1" r="12.1"/><circle cx="294.2" cy="430.3" r="12.1"/><circle cx="342.3" cy="190.7" r="12.1"/><circle cx="235.1" cy="268.9" r="12.1"/><circle cx="335.3" cy="125.5" r="12.1"/><circle cx="348.1" cy="397" r="12.1"/><circle cx="227.4" cy="384" r="12.1"/><circle cx="328" cy="270.4" r="12.1"/><circle cx="278.4" cy="224.8" r="12.1"/><circle cx="287.6" cy="217.5" r="12.1"/><circle cx="385.2" cy="311.4" r="12.1"/><circle cx="467.3" cy="429.6" r="12.1"/><circle cx="329.1" cy="266.3" r="12.1"/><circle cx="428.9" cy="467.2" r="12.1"/><circle cx="368.5" cy="509.7" r="12.1"/><circle cx="384.5" cy="313.6" r="12.1"/><circle cx="303.9" cy="345" r="12.1"/><circle cx="387.6" cy="363.7" r="12.1"/><circle cx="343.7" cy="246.8" r="12.1"/><circle cx="445.1" cy="324.5" r="12.1"/><circle cx="388.8" cy="227.4" r="12.1"/><circle cx="247.8" cy="252.5" r="12.1"/><circle cx="229.9" cy="244.4" r="12.1"/><circle cx="408" cy="357.1" r="12.1"/><circle cx="379.7" cy="364.4" r="12.1"/><circle cx="317.1" cy="379.3" r="12.1"/><circle cx="345" cy="79.1" r="12.1"/><circle cx="410.7" cy="330.3" r="12.1"/><circle cx="271.8" cy="343.2" r="12.1"/><circle cx="301" cy="408.5" r="12.1"/><circle cx="330" cy="315.6" r="12.1"/><circle cx="314.9" cy="325.5" r="12.1"/><circle cx="297.5" cy="213.8" r="12.1"/><circle cx="380.7" cy="140.8" r="12.1"/><circle cx="326.3" cy="369.6" r="12.1"/><circle cx="343" cy="171.5" r="12.1"/><circle cx="195.4" cy="290.5" r="12.1"/><circle cx="314.5" cy="303.9" r="12.1"/><circle cx="247.4" cy="375.6" r="12.1"/><circle cx="398.9" cy="435.5" r="12.1"/><circle cx="256.5" cy="168.8" r="12.1"/><circle cx="289.7" cy="338.4" r="12.1"/><circle cx="250.8" cy="191.9" r="12.1"/><circle cx="336.1" cy="315.1" r="12.1"/><circle cx="341.6" cy="427.8" r="12.1"/><circle cx="361.5" cy="462.4" r="12.1"/><circle cx="264.1" cy="457.4" r="12.1"/><circle cx="266.5" cy="360.8" r="12.1"/><circle cx="353.2" cy="222" r="12.1"/><circle cx="391.3" cy="340.4" r="12.1"/><circle cx="339.3" cy="441.2" r="12.1"/><circle cx="440.4" cy="447.1" r="12.1"/><circle cx="312.3" cy="386.5" r="12.1"/><circle cx="319.8" cy="312.3" r="12.1"/><circle cx="414.5" cy="309.7" r="12.1"/><circle cx="332.3" cy="254.8" r="12.1"/><circle cx="253.4" cy="105.5" r="12.1"/><circle cx="255.2" cy="388.1" r="12.1"/><circle cx="323.8" cy="125.2" r="12.1"/><circle cx="195.8" cy="259.7" r="12.1"/><circle cx="375.2" cy="226" r="12.1"/><circle cx="385.7" cy="258.9" r="12.1"/><circle cx="211.6" cy="178.4" r="12.1"/><circle cx="393.1" cy="331.1" r="12.1"/><circle cx="376.9" cy="382.1" r="12.1"/><circle cx="341.7" cy="270.7" r="12.1"/><circle cx="296.9" cy="273.1" r="12.1"/><circle cx="241.4" cy="280" r="12.1"/><circle cx="355" cy="184.1" r="12.1"/><circle cx="376.2" cy="465.6" r="12.1"/><circle cx="392.2" cy="223.1" r="12.1"/><circle cx="322.9" cy="590.1" r="12.1"/><circle cx="319.1" cy="170.6" r="12.1"/><circle cx="336.8" cy="331" r="12.1"/><circle cx="387.6" cy="436.4" r="12.1"/><circle cx="360.6" cy="190.4" r="12.1"/><circle cx="342.1" cy="278.2" r="12.1"/><circle cx="417.3" cy="353.4" r="12.1"/><circle cx="308.7" cy="240.8" r="12.1"/><circle cx="228.2" cy="246.1" r="12.1"/><circle cx="358.6" cy="435.9" r="12.1"/><circle cx="349" cy="147.6" r="12.1"/><circle cx="391.3" cy="378.3" r="12.1"/><circle cx="333.6" cy="411.9" r="12.1"/><circle cx="301.4" cy="264.6" r="12.1"/><circle cx="422.7" cy="551.6" r="12.1"/><circle cx="394.7" cy="384.1" r="12.1"/><circle cx="374.9" cy="365" r="12.1"/><circle cx="293" cy="273.7" r="12.1"/><circle cx="404.1" cy="179.1" r="12.1"/><circle cx="300.8" cy="375.8" r="12.1"/><circle cx="287.5" cy="133.4" r="12.1"/><circle cx="414.3" cy="213.3" r="12.1"/><circle cx="432.8" cy="458.6" r="12.1"/><circle cx="399.8" cy="423.5" r="12.1"/><circle cx="417.9" cy="203.6" r="12.1"/><circle cx="331.9" cy="505.9" r="12.1"/><circle cx="395.7" cy="409.2" r="12.1"/><circle cx="308" cy="443.4" r="12.1"/><circle cx="399.9" cy="311.1" r="12.1"/><circle cx="347.7" cy="355.1" r="12.1"/><circle cx="307.2" cy="130.8" r="12.1"/><circle cx="262.5" cy="174.3" r="12.1"/><circle cx="367.8" cy="353.5" r="12.1"/><circle cx="361.4" cy="164.5" r="12.1"/><circle cx="319" cy="452.3" r="12.1"/><circle cx="280.3" cy="222.5" r="12.1"/><circle cx="339.4" cy="420.1" r="12.1"/><circle cx="405.3" cy="328.7" r="12.1"/><circle cx="280.4" cy="235.5" r="12.1"/><circle cx="401" cy="248.5" r="12.1"/><circle cx="447.2" cy="489.6" r="12.1"/><circle cx="319.7" cy="341.3" r="12.1"/><circle cx="308.3" cy="234.1" r="12.1"/><circle cx="450.9" cy="306.8" r="12.1"/><circle cx="336.4" cy="378.9" r="12.1"/><circle cx="360.2" cy="164.6" r="12.1"/><circle cx="277.3" cy="96.7" r="12.1"/><circle cx="247" cy="381" r="12.1"/><circle cx="344.5" cy="441.8" r="12.1"/><circle cx="280.5" cy="154.3" r="12.1"/><circle cx="318.8" cy="329.4" r="12.1"/><circle cx="379.4" cy="473.3" r="12.1"/><circle cx="424.5" cy="441.8" r="12.1"/><circle cx="361.6" cy="139.3" r="12.1"/><circle cx="447.6" cy="338.8" r="12.1"/><circle cx="371" cy="354.2" r="12.1"/><circle cx="458.4" cy="379.3" r="12.1"/><circle cx="317" cy="376.3" r="12.1"/><circle cx="308.3" cy="399.3" r="12.1"/><circle cx="335.1" cy="371" r="12.1"/><circle cx="324.1" cy="279.6" r="12.1"/><circle cx="374.1" cy="305.7" r="12.1"/><circle cx="253.2" cy="163.4" r="12.1"/><circle cx="369.1" cy="332.7" r="12.1"/><circle cx="295.2" cy="343.1" r="12.1"/><circle cx="346" cy="200.6" r="12.1"/><circle cx="367.6" cy="370.2" r="12.1"/><circle cx="286.1" cy="197.5" r="12.1"/><circle cx="345.7" cy="298.8" r="12.1"/><circle cx="245" cy="353.3" r="12.1"/><circle cx="353.2" cy="298.5" r="12.1"/><circle cx="393.6" cy="379.1" r="12.1"/><circle cx="409.1" cy="256.2" r="12.1"/><circle cx="306.1" cy="362.2" r="12.1"/><circle cx="391.4" cy="312.6" r="12.1"/><circle cx="283.6" cy="210.9" r="12.1"/><circle cx="198.5" cy="286.7" r="12.1"/><circle cx="404.9" cy="546.9" r="12.1"/><circle cx="413.2" cy="328.8" r="12.1"/><circle cx="302.5" cy="192.7" r="12.1"/><circle cx="380.5" cy="167.1" r="12.1"/><circle cx="304.4" cy="271.7" r="12.1"/><circle cx="284.4" cy="452.1" r="12.1"/><circle cx="392.8" cy="370.4" r="12.1"/><circle cx="371.2" cy="415.4" r="12.1"/><circle cx="352.8" cy="242.9" r="12.1"/><circle cx="413" cy="262.2" r="12.1"/><circle cx="415.1" cy="393.8" r="12.1"/><circle cx="401.2" cy="204" r="12.1"/><circle cx="381.2" cy="158.1" r="12.1"/><circle cx="380" cy="300.2" r="12.1"/><circle cx="404" cy="449.5" r="12.1"/><circle cx="282.3" cy="487.3" r="12.1"/><circle cx="340" cy="392.5" r="12.1"/><circle cx="426.3" cy="380.8" r="12.1"/><circle cx="274.6" cy="309.4" r="12.1"/><circle cx="291.5" cy="231.8" r="12.1"/><circle cx="381.1" cy="527.4" r="12.1"/><circle cx="232" cy="323.5" r="12.1"/><circle cx="386.5" cy="376.6" r="12.1"/><circle cx="396.6" cy="605.1" r="12.1"/><circle cx="299" cy="552.1" r="12.1"/><circle cx="320.1" cy="344.1" r="12.1"/><circle cx="305.6" cy="473.2" r="12.1"/><circle cx="326.1" cy="372.7" r="12.1"/><circle cx="332.5" cy="487.7" r="12.1"/><circle cx="349.3" cy="211.8" r="12.1"/><circle cx="384.3" cy="561.5" r="12.1"/><circle cx="425.9" cy="242.9" r="12.1"/><circle cx="382.7" cy="202.8" r="12.1"/><circle cx="350.9" cy="260.3" r="12.1"/><circle cx="241.7" cy="156.6" r="12.1"/><circle cx="371.5" cy="513.5" r="12.1"/><circle cx="301.5" cy="356" r="12.1"/><circle cx="244.2" cy="431.9" r="12.1"/><circle cx="292.5" cy="167.4" r="12.1"/><circle cx="261.3" cy="219.1" r="12.1"/><circle cx="320.1" cy="335.1" r="12.1"/><circle cx="443.5" cy="291" r="12.1"/><circle cx="295.3" cy="346" r="12.1"/><circle cx="270.7" cy="116" r="12.1"/><circle cx="465.1" cy="449.5" r="12.1"/><circle cx="288.2" cy="432.6" r="12.1"/><circle cx="344.3" cy="478" r="12.1"/><circle cx="312.8" cy="377" r="12.1"/><circle cx="323.1" cy="255.3" r="12.1"/><circle cx="281.6" cy="117.5" r="12.1"/><circle cx="347.7" cy="488.2" r="12.1"/><circle cx="218.1" cy="269.3" r="12.1"/><circle cx="397.1" cy="395.2" r="12.1"/><circle cx="364.5" cy="437.7" r="12.1"/><circle cx="320" cy="337.5" r="12.1"/><circle cx="320.3" cy="336.2" r="12.1"/><circle cx="435.9" cy="389.8" r="12.1"/><circle cx="337.6" cy="288.4" r="12.1"/><circle cx="244.9" cy="382.7" r="12.1"/><circle cx="328.8" cy="72.6" r="12.1"/><circle cx="338.7" cy="400.2" r="12.1"/><circle cx="254.2" cy="395.1" r="12.1"/><circle cx="347.5" cy="384.3" r="12.1"/><circle cx="367.9" cy="167" r="12.1"/><circle cx="248" cy="125.8" r="12.1"/><circle cx="301.8" cy="344.9" r="12.1"/><circle cx="408.5" cy="409.7" r="12.1"/><circle cx="286.1" cy="303.9" r="12.1"/><circle cx="292.9" cy="266.2" r="12.1"/><circle cx="336.5" cy="477" r="12.1"/><circle cx="335.4" cy="411.3" r="12.1"/><circle cx="371.4" cy="200.3" r="12.1"/><circle cx="306.1" cy="178.7" r="12.1"/><circle cx="218.4" cy="353.6" r="12.1"/><circle cx="213.4" cy="279.9" r="12.1"/><circle cx="284.6" cy="293" r="12.1"/><circle cx="446.7" cy="348.7" r="12.1"/><circle cx="385.1" cy="383.1" r="12.1"/><circle cx="313.1" cy="339.6" r="12.1"/><circle cx="448.2" cy="338.1" r="12.1"/><circle cx="305.8" cy="427.1" r="12.1"/><circle cx="230.6" cy="259.3" r="12.1"/><circle cx="290.2" cy="193.7" r="12.1"/><circle cx="263.1" cy="186.5" r="12.1"/><circle cx="205.3" cy="328.2" r="12.1"/><circle cx="384.2" cy="357.6" r="12.1"/><circle cx="382" cy="389.8" r="12.1"/><circle cx="307.7" cy="96.1" r="12.1"/><circle cx="370.7" cy="343.1" r="12.1"/><circle cx="301.4" cy="383.9" r="12.1"/><circle cx="347.6" cy="374.5" r="12.1"/><circle cx="308.6" cy="80.5" r="12.1"/><circle cx="368.1" cy="456.8" r="12.1"/><circle cx="327.3" cy="285.1" r="12.1"/><circle cx="309.4" cy="539.9" r="12.1"/><circle cx="404.6" cy="484.9" r="12.1"/><circle cx="440.6" cy="370.9" r="12.1"/><circle cx="380.2" cy="219.7" r="12.1"/><circle cx="254.3" cy="204.7" r="12.1"/><circle cx="336.6" cy="170.4" r="12.1"/><circle cx="311.8" cy="194" r="12.1"/><circle cx="378.4" cy="151.3" r="12.1"/><circle cx="412.2" cy="602" r="12.1"/><circle cx="255.4" cy="336.2" r="12.1"/><circle cx="200.5" cy="257.8" r="12.1"/><circle cx="251.8" cy="329.9" r="12.1"/><circle cx="325.8" cy="327.9" r="12.1"/><circle cx="273.7" cy="227.3" r="12.1"/><circle cx="444.3" cy="409.2" r="12.1"/><circle cx="274.2" cy="421.5" r="12.1"/><circle cx="306.9" cy="190.6" r="12.1"/><circle cx="244.1" cy="450" r="12.1"/><circle cx="327.7" cy="257.6" r="12.1"/><circle cx="278.2" cy="390.9" r="12.1"/><circle cx="315.2" cy="363.5" r="12.1"/><circle cx="417.5" cy="348" r="12.1"/><circle cx="398.2" cy="363.1" r="12.1"/><circle cx="223.3" cy="282.4" r="12.1"/><circle cx="357.3" cy="463.8" r="12.1"/><circle cx="251.2" cy="469.7" r="12.1"/><circle cx="292" cy="381" r="12.1"/><circle cx="310.8" cy="480.5" r="12.1"/><circle cx="275.1" cy="254.2" r="12.1"/><circle cx="240.5" cy="234.6" r="12.1"/><circle cx="408.7" cy="161.7" r="12.1"/><circle cx="430.7" cy="434.2" r="12.1"/><circle cx="383.3" cy="312.6" r="12.1"/><circle cx="420.1" cy="455.8" r="12.1"/><circle cx="449.5" cy="334.2" r="12.1"/><circle cx="446.2" cy="362.6" r="12.1"/><circle cx="372.3" cy="161" r="12.1"/><circle cx="288.3" cy="437.9" r="12.1"/><circle cx="270.2" cy="432.8" r="12.1"/><circle cx="319.5" cy="167.4" r="12.1"/><circle cx="303.4" cy="501" r="12.1"/><circle cx="363" cy="254.9" r="12.1"/><circle cx="243.7" cy="258.1" r="12.1"/><circle cx="390.4" cy="631" r="12.1"/><circle cx="230.4" cy="208.5" r="12.1"/><circle cx="291.1" cy="442.9" r="12.1"/><circle cx="316.4" cy="261.7" r="12.1"/><circle cx="346.7" cy="367.3" r="12.1"/><circle cx="432.6" cy="358.7" r="12.1"/><circle cx="361.8" cy="405.5" r="12.1"/><circle cx="401.5" cy="364.6" r="12.1"/><circle cx="283.5" cy="468.3" r="12.1"/><circle cx="387.2" cy="329.2" r="12.1"/><circle cx="332.2" cy="469.9" r="12.1"/><circle cx="320.9" cy="312.9" r="12.1"/><circle cx="220.4" cy="193.6" r="12.1"/><circle cx="288.4" cy="379.7" r="12.1"/><circle cx="369.6" cy="315.4" r="12.1"/><circle cx="374.3" cy="418.5" r="12.1"/><circle cx="284" cy="255" r="12.1"/><circle cx="350.7" cy="456.2" r="12.1"/><circle cx="293.7" cy="328.3" r="12.1"/><circle cx="369.6" cy="236.2" r="12.1"/><circle cx="295.6" cy="300.9" r="12.1"/><circle cx="372.6" cy="350.5" r="12.1"/><circle cx="340.4" cy="212" r="12.1"/><circle cx="363.4" cy="171.2" r="12.1"/><circle cx="239.2" cy="217.2" r="12.1"/><circle cx="285.6" cy="443.5" r="12.1"/><circle cx="325" cy="331.1" r="12.1"/><circle cx="287.8" cy="174.8" r="12.1"/><circle cx="380" cy="384.6" r="12.1"/><circle cx="350.9" cy="270.5" r="12.1"/><circle cx="229.8" cy="261.6" r="12.1"/><circle cx="335.4" cy="535.6" r="12.1"/><circle cx="382.4" cy="360.3" r="12.1"/><circle cx="351.1" cy="163.6" r="12.1"/><circle cx="337.8" cy="421.1" r="12.1"/><circle cx="289.9" cy="419.4" r="12.1"/><circle cx="371.9" cy="192.3" r="12.1"/><circle cx="302.6" cy="395.9" r="12.1"/><circle cx="430" cy="340.4" r="12.1"/><circle cx="324.4" cy="419.7" r="12.1"/><circle cx="371.6" cy="320.3" r="12.1"/><circle cx="351.3" cy="325.2" r="12.1"/><circle cx="259.8" cy="80.2" r="12.1"/><circle cx="198.4" cy="204.8" r="12.1"/><circle cx="385.6" cy="469.3" r="12.1"/><circle cx="373.5" cy="116.5" r="12.1"/><circle cx="430.8" cy="360.7" r="12.1"/><circle cx="404.4" cy="392.3" r="12.1"/><circle cx="273.9" cy="409.3" r="12.1"/><circle cx="279.4" cy="317.4" r="12.1"/><circle cx="283.5" cy="491.1" r="12.1"/><circle cx="342.8" cy="94" r="12.1"/><circle cx="276.7" cy="241.4" r="12.1"/><circle cx="352" cy="342.2" r="12.1"/><circle cx="317.3" cy="193.2" r="12.1"/><circle cx="370" cy="408.2" r="12.1"/><circle cx="410.9" cy="273.5" r="12.1"/><circle cx="271.7" cy="278.9" r="12.1"/><circle cx="299.1" cy="467.7" r="12.1"/><circle cx="417.9" cy="403.3" r="12.1"/><circle cx="342.2" cy="358.5" r="12.1"/><circle cx="264.6" cy="362" r="12.1"/><circle cx="350.4" cy="421.6" r="12.1"/><circle cx="263.1" cy="439" r="12.1"/><circle cx="406.3" cy="206.1" r="12.1"/><circle cx="403.5" cy="498.1" r="12.1"/><circle cx="250" cy="350.4" r="12.1"/><circle cx="365.7" cy="199.3" r="12.1"/><circle cx="237.8" cy="292.2" r="12.1"/><circle cx="374.3" cy="375.7" r="12.1"/><circle cx="228.8" cy="379" r="12.1"/><circle cx="216.7" cy="281.5" r="12.1"/><circle cx="263.5" cy="383.5" r="12.1"/><circle cx="352.5" cy="318.4" r="12.1"/><circle cx="434" cy="355.6" r="12.1"/><circle cx="356.4" cy="434.1" r="12.1"/><circle cx="261.7" cy="148.1" r="12.1"/><circle cx="306.1" cy="435.2" r="12.1"/><circle cx="402" cy="267.8" r="12.1"/><circle cx="239.4" cy="264.7" r="12.1"/><circle cx="249.3" cy="139.9" r="12.1"/><circle cx="401.1" cy="586.9" r="12.1"/><circle cx="310.9" cy="438.1" r="12.1"/><circle cx="363.3" cy="483.7" r="12.1"/><circle cx="279.8" cy="207.3" r="12.1"/><circle cx="422.4" cy="369.4" r="12.1"/><circle cx="368.6" cy="335.1" r="12.1"/><circle cx="373.2" cy="140.5" r="12.1"/><circle cx="338.9" cy="421.3" r="12.1"/><circle cx="318.2" cy="396" r="12.1"/><circle cx="324.1" cy="436.4" r="12.1"/><circle cx="322.8" cy="218.2" r="12.1"/><circle cx="372.3" cy="267.4" r="12.1"/><circle cx="295.7" cy="349.5" r="12.1"/><circle cx="303.1" cy="389.8" r="12.1"/><circle cx="282" cy="227.4" r="12.1"/><circle cx="402" cy="356.3" r="12.1"/><circle cx="346.4" cy="275.5" r="12.1"/><circle cx="380.3" cy="524.2" r="12.1"/><circle cx="331.1" cy="468" r="12.1"/><circle cx="319.8" cy="416.6" r="12.1"/><circle cx="432.7" cy="391.8" r="12.1"/><circle cx="348.8" cy="445.2" r="12.1"/><circle cx="289.9" cy="447.6" r="12.1"/><circle cx="290" cy="222.8" r="12.1"/><circle cx="400.6" cy="317.7" r="12.1"/><circle cx="384.3" cy="197.8" r="12.1"/><circle cx="241.3" cy="108.8" r="12.1"/><circle cx="416.8" cy="333.4" r="12.1"/><circle cx="344.5" cy="419.5" r="12.1"/><circle cx="235.4" cy="190.2" r="12.1"/><circle cx="325.6" cy="239.5" r="12.1"/><circle cx="374.1" cy="284.7" r="12.1"/><circle cx="291" cy="294.7" r="12.1"/><circle cx="374.8" cy="289.6" r="12.1"/><circle cx="433.5" cy="230.5" r="12.1"/><circle cx="323.5" cy="340.1" r="12.1"/><circle cx="354.6" cy="195" r="12.1"/><circle cx="335.1" cy="353.4" r="12.1"/><circle cx="303.2" cy="421.6" r="12.1"/><circle cx="235.4" cy="339" r="12.1"/><circle cx="261.7" cy="209.7" r="12.1"/><circle cx="284.9" cy="272.6" r="12.1"/><circle cx="266" cy="348.4" r="12.1"/><circle cx="359.3" cy="437.1" r="12.1"/><circle cx="391.7" cy="363.3" r="12.1"/><circle cx="349.8" cy="114.3" r="12.1"/><circle cx="295.4" cy="241.8" r="12.1"/><circle cx="336" cy="203.8" r="12.1"/><circle cx="250.5" cy="109.1" r="12.1"/><circle cx="381.8" cy="422.1" r="12.1"/><circle cx="309.7" cy="194.5" r="12.1"/><circle cx="273.2" cy="453" r="12.1"/><circle cx="306.4" cy="524.8" r="12.1"/><circle cx="440.5" cy="351.9" r="12.1"/><circle cx="441.1" cy="371.1" r="12.1"/><circle cx="360.2" cy="334.3" r="12.1"/><circle cx="261.5" cy="344.3" r="12.1"/><circle cx="423.3" cy="228.6" r="12.1"/><circle cx="247.7" cy="341" r="12.1"/><circle cx="311.9" cy="200.8" r="12.1"/><circle cx="317.9" cy="469.2" r="12.1"/><circle cx="379.8" cy="400.6" r="12.1"/><circle cx="318.7" cy="451" r="12.1"/><circle cx="365.2" cy="315.9" r="12.1"/><circle cx="313.3" cy="139" r="12.1"/><circle cx="419.6" cy="418.3" r="12.1"/><circle cx="318.9" cy="343.1" r="12.1"/><circle cx="284.4" cy="377.4" r="12.1"/><circle cx="355.9" cy="308.3" r="12.1"/><circle cx="265.5" cy="402.5" r="12.1"/><circle cx="314.1" cy="479.2" r="12.1"/><circle cx="259.8" cy="395.1" r="12.1"/><circle cx="360.4" cy="325.9" r="12.1"/><circle cx="340" cy="480.3" r="12.1"/><circle cx="344.6" cy="213.8" r="12.1"/><circle cx="302" cy="299.1" r="12.1"/><circle cx="328.2" cy="227.6" r="12.1"/><circle cx="318.6" cy="350.3" r="12.1"/><circle cx="269.9" cy="195" r="12.1"/><circle cx="430" cy="392.6" r="12.1"/><circle cx="428.8" cy="322.3" r="12.1"/><circle cx="252.6" cy="352.3" r="12.1"/><circle cx="277.4" cy="453.7" r="12.1"/><circle cx="415.2" cy="394.6" r="12.1"/><circle cx="315.8" cy="293.7" r="12.1"/><circle cx="391.4" cy="375.8" r="12.1"/><circle cx="321.1" cy="327.4" r="12.1"/><circle cx="290" cy="580.4" r="12.1"/><circle cx="340.9" cy="163.9" r="12.1"/><circle cx="242.5" cy="360.4" r="12.1"/><circle cx="254.9" cy="388.7" r="12.1"/><circle cx="206.6" cy="247.5" r="12.1"/><circle cx="337.3" cy="205.8" r="12.1"/><circle cx="354.8" cy="358.6" r="12.1"/><circle cx="293.7" cy="239.9" r="12.1"/><circle cx="373.4" cy="605.4" r="12.1"/><circle cx="331.1" cy="394.4" r="12.1"/><circle cx="366.4" cy="376.8" r="12.1"/><circle cx="318.7" cy="342.6" r="12.1"/><circle cx="250.8" cy="226.7" r="12.1"/><circle cx="392.7" cy="399.1" r="12.1"/><circle cx="356.7" cy="489.2" r="12.1"/><circle cx="353.6" cy="203.5" r="12.1"/><circle cx="239.4" cy="457.2" r="12.1"/><circle cx="390.9" cy="464.2" r="12.1"/><circle cx="353.3" cy="129.2" r="12.1"/><circle cx="231.5" cy="179.2" r="12.1"/><circle cx="316.2" cy="417.9" r="12.1"/><circle cx="258.7" cy="410.9" r="12.1"/><circle cx="353.3" cy="397" r="12.1"/><circle cx="315.2" cy="161.9" r="12.1"/><circle cx="285.2" cy="448" r="12.1"/><circle cx="236.2" cy="248.2" r="12.1"/><circle cx="418.2" cy="352.6" r="12.1"/><circle cx="342.1" cy="414.2" r="12.1"/><circle cx="334.9" cy="161.4" r="12.1"/><circle cx="264.8" cy="73" r="12.1"/><circle cx="259.7" cy="362.1" r="12.1"/><circle cx="431.5" cy="249.9" r="12.1"/><circle cx="362.4" cy="185.7" r="12.1"/><circle cx="445.9" cy="399.1" r="12.1"/><circle cx="316.9" cy="434.5" r="12.1"/><circle cx="349.8" cy="428.9" r="12.1"/><circle cx="297.1" cy="423.3" r="12.1"/><circle cx="337.5" cy="366" r="12.1"/><circle cx="400.1" cy="363.7" r="12.1"/><circle cx="259.9" cy="270.3" r="12.1"/><circle cx="397.2" cy="227.6" r="12.1"/><circle cx="378.7" cy="278.3" r="12.1"/><circle cx="317.8" cy="485.9" r="12.1"/><circle cx="336.6" cy="309.4" r="12.1"/><circle cx="390" cy="338.2" r="12.1"/><circle cx="449.2" cy="295.6" r="12.1"/><circle cx="411.3" cy="352.5" r="12.1"/><circle cx="304.8" cy="283.1" r="12.1"/><circle cx="343.6" cy="330.3" r="12.1"/><circle cx="327.1" cy="295.2" r="12.1"/><circle cx="435.7" cy="442.9" r="12.1"/><circle cx="382.8" cy="359.8" r="12.1"/><circle cx="281.8" cy="506.8" r="12.1"/><circle cx="371.6" cy="559.5" r="12.1"/><circle cx="277.4" cy="416.2" r="12.1"/><circle cx="322.6" cy="126.2" r="12.1"/><circle cx="361.9" cy="103.2" r="12.1"/><circle cx="338.2" cy="238.4" r="12.1"/><circle cx="402.8" cy="294.7" r="12.1"/><circle cx="267.8" cy="191.8" r="12.1"/><circle cx="441.1" cy="393.4" r="12.1"/><circle cx="358.2" cy="252.1" r="12.1"/><circle cx="248.2" cy="379.4" r="12.1"/><circle cx="436.3" cy="311.5" r="12.1"/><circle cx="367.2" cy="329" r="12.1"/><circle cx="281.3" cy="281.2" r="12.1"/><circle cx="250.7" cy="233.4" r="12.1"/><circle cx="383.8" cy="210.9" r="12.1"/><circle cx="255.4" cy="307.1" r="12.1"/><circle cx="296.7" cy="87.5" r="12.1"/><circle cx="306.6" cy="364.7" r="12.1"/><circle cx="250.8" cy="274.8" r="12.1"/><circle cx="287.5" cy="332.8" r="12.1"/><circle cx="254.1" cy="398.8" r="12.1"/><circle cx="374.5" cy="377.6" r="12.1"/><circle cx="289.3" cy="384.6" r="12.1"/><circle cx="286.4" cy="54.1" r="12.1"/><circle cx="250.3" cy="301.6" r="12.1"/><circle cx="339.7" cy="375.5" r="12.1"/><circle cx="316.9" cy="263.8" r="12.1"/><circle cx="373.1" cy="192.8" r="12.1"/><circle cx="276.6" cy="88" r="12.1"/><circle cx="406.8" cy="405.6" r="12.1"/><circle cx="445.5" cy="344.8" r="12.1"/><circle cx="447.2" cy="424.2" r="12.1"/><circle cx="337.1" cy="425.1" r="12.1"/><circle cx="273" cy="475.1" r="12.1"/><circle cx="261.6" cy="240.1" r="12.1"/><circle cx="406" cy="384.5" r="12.1"/><circle cx="378.4" cy="462.5" r="12.1"/><circle cx="195.2" cy="273.3" r="12.1"/><circle cx="354.6" cy="412.1" r="12.1"/><circle cx="443.9" cy="390.7" r="12.1"/><circle cx="315.6" cy="322.4" r="12.1"/><circle cx="281.1" cy="349.7" r="12.1"/><circle cx="270.4" cy="422.7" r="12.1"/><circle cx="418.5" cy="459.6" r="12.1"/><circle cx="398.4" cy="462.1" r="12.1"/><circle cx="384.2" cy="329.1" r="12.1"/><circle cx="303.8" cy="317.7" r="12.1"/><circle cx="320.5" cy="278.7" r="12.1"/><circle cx="278.7" cy="457.2" r="12.1"/><circle cx="375.2" cy="589.5" r="12.1"/><circle cx="346.8" cy="400.7" r="12.1"/><circle cx="385.9" cy="273" r="12.1"/><circle cx="405.8" cy="556.3" r="12.1"/><circle cx="381" cy="432.8" r="12.1"/><circle cx="327.5" cy="199.8" r="12.1"/><circle cx="393.6" cy="350.6" r="12.1"/><circle cx="288.8" cy="129.6" r="12.1"/><circle cx="247.4" cy="81.4" r="12.1"/><circle cx="234.1" cy="130.9" r="12.1"/><circle cx="300.5" cy="270.8" r="12.1"/><circle cx="352.3" cy="603.1" r="12.1"/><circle cx="260.1" cy="176.8" r="12.1"/><circle cx="268.8" cy="405.9" r="12.1"/><circle cx="288.1" cy="284" r="12.1"/><circle cx="292.3" cy="439.7" r="12.1"/><circle cx="367.6" cy="413.8" r="12.1"/><circle cx="415.4" cy="307.6" r="12.1"/><circle cx="249" cy="361.2" r="12.1"/><circle cx="347.7" cy="391.3" r="12.1"/><circle cx="347" cy="336" r="12.1"/><circle cx="325.7" cy="421" r="12.1"/><circle cx="360.3" cy="555.4" r="12.1"/><circle cx="225.3" cy="230" r="12.1"/><circle cx="397.3" cy="421.2" r="12.1"/><circle cx="240.9" cy="98.6" r="12.1"/><circle cx="420.1" cy="436.4" r="12.1"/><circle cx="269.8" cy="137.9" r="12.1"/><circle cx="314.6" cy="484.1" r="12.1"/><circle cx="282.1" cy="278.6" r="12.1"/><circle cx="302.1" cy="135" r="12.1"/><circle cx="240.2" cy="409" r="12.1"/><circle cx="412.1" cy="348.6" r="12.1"/><circle cx="403.4" cy="367.5" r="12.1"/><circle cx="414.3" cy="241.7" r="12.1"/><circle cx="269.5" cy="280.7" r="12.1"/><circle cx="280" cy="206.3" r="12.1"/><circle cx="270.4" cy="273.3" r="12.1"/><circle cx="370" cy="284.6" r="12.1"/><circle cx="225.9" cy="192.3" r="12.1"/><circle cx="236.9" cy="458" r="12.1"/><circle cx="294.7" cy="105.3" r="12.1"/><circle cx="358.6" cy="476.3" r="12.1"/><circle cx="266.4" cy="88.8" r="12.1"/><circle cx="299.2" cy="423.6" r="12.1"/><circle cx="299.5" cy="443.3" r="12.1"/><circle cx="342.5" cy="309" r="12.1"/><circle cx="251.5" cy="159.9" r="12.1"/><circle cx="321.2" cy="311.3" r="12.1"/><circle cx="365" cy="326.8" r="12.1"/><circle cx="406.5" cy="184.9" r="12.1"/><circle cx="422.9" cy="359.3" r="12.1"/><circle cx="359.6" cy="444.6" r="12.1"/><circle cx="273.8" cy="324" r="12.1"/><circle cx="347.9" cy="148.2" r="12.1"/><circle cx="285.2" cy="544.5" r="12.1"/><circle cx="343.7" cy="328.7" r="12.1"/><circle cx="265.7" cy="282.9" r="12.1"/><circle cx="307.8" cy="336" r="12.1"/><circle cx="320.8" cy="287.3" r="12.1"/><circle cx="325.5" cy="373.4" r="12.1"/><circle cx="270.8" cy="114.6" r="12.1"/><circle cx="273.8" cy="323.5" r="12.1"/><circle cx="355.3" cy="316.2" r="12.1"/><circle cx="459.8" cy="393.8" r="12.1"/><circle cx="242.2" cy="126.7" r="12.1"/><circle cx="341.7" cy="356.5" r="12.1"/><circle cx="266.4" cy="289" r="12.1"/><circle cx="416.9" cy="234.4" r="12.1"/><circle cx="248.2" cy="214" r="12.1"/><circle cx="227.4" cy="210.8" r="12.1"/><circle cx="409.1" cy="261.7" r="12.1"/><circle cx="282.1" cy="386.2" r="12.1"/><circle cx="227.4" cy="230.5" r="12.1"/><circle cx="234.7" cy="401.4" r="12.1"/><circle cx="343.1" cy="159" r="12.1"/><circle cx="322.8" cy="433.7" r="12.1"/><circle cx="370.6" cy="426.6" r="12.1"/><circle cx="358.4" cy="237.5" r="12.1"/><circle cx="316.8" cy="249" r="12.1"/><circle cx="411.6" cy="294.7" r="12.1"/><circle cx="291.2" cy="267" r="12.1"/><circle cx="309.5" cy="337.4" r="12.1"/><circle cx="281.1" cy="409.7" r="12.1"/><circle cx="306.6" cy="142.7" r="12.1"/><circle cx="229.7" cy="226.8" r="12.1"/><circle cx="245.2" cy="492.2" r="12.1"/><circle cx="375.8" cy="347.1" r="12.1"/><circle cx="381.8" cy="363.1" r="12.1"/><circle cx="201.2" cy="320.9" r="12.1"/><circle cx="376.8" cy="230.9" r="12.1"/><circle cx="277.7" cy="308.9" r="12.1"/><circle cx="275.5" cy="156" r="12.1"/><circle cx="208.2" cy="323.1" r="12.1"/><circle cx="255.5" cy="392.3" r="12.1"/><circle cx="297.5" cy="373" r="12.1"/><circle cx="316.4" cy="335.6" r="12.1"/><circle cx="432.7" cy="388.1" r="12.1"/><circle cx="362.6" cy="502.7" r="12.1"/><circle cx="444.7" cy="368.2" r="12.1"/><circle cx="323.4" cy="68.2" r="12.1"/><circle cx="399.7" cy="177.5" r="12.1"/><circle cx="306.9" cy="259.7" r="12.1"/><circle cx="301.6" cy="164.2" r="12.1"/><circle cx="466.2" cy="448.2" r="12.1"/><circle cx="266.1" cy="142.7" r="12.1"/><circle cx="366.7" cy="335.3" r="12.1"/><circle cx="233.3" cy="384.5" r="12.1"/><circle cx="342.4" cy="173.7" r="12.1"/><circle cx="309" cy="413.9" r="12.1"/><circle cx="234.7" cy="347.7" r="12.1"/><circle cx="358.8" cy="103.2" r="12.1"/><circle cx="394.9" cy="551.2" r="12.1"/><circle cx="313" cy="409.2" r="12.1"/><circle cx="262.2" cy="334.5" r="12.1"/><circle cx="341.9" cy="410.7" r="12.1"/><circle cx="268" cy="293.3" r="12.1"/><circle cx="271.1" cy="373.2" r="12.1"/><circle cx="447.6" cy="89.9" r="12.1"/><circle cx="418.9" cy="86.9" r="12.1"/><circle cx="402.3" cy="96" r="12.1"/><circle cx="379.7" cy="97.5" r="12.1"/><circle cx="486.9" cy="142.2" r="12.1"/><circle cx="417.4" cy="150.4" r="12.1"/><circle cx="391.8" cy="120.1" r="12.1"/><circle cx="408.4" cy="183.6" r="12.1"/><circle cx="431" cy="191.1" r="12.1"/><circle cx="462.2" cy="215.9" r="12.1"/><circle cx="490" cy="216.8" r="12.1"/><circle cx="498.4" cy="240.1" r="12.1"/><circle cx="519.6" cy="240.1" r="12.1"/><circle cx="447.6" cy="236.5" r="12.1"/><circle cx="432.5" cy="228.9" r="12.1"/><circle cx="485.4" cy="308.4" r="12.1"/><circle cx="505" cy="308.4" r="12.1"/><circle cx="453.7" cy="299.9" r="12.1"/><circle cx="441.6" cy="274.2" r="12.1"/><circle cx="354" cy="94.5" r="12.1"/><circle cx="335.9" cy="64.3" r="12.1"/><circle cx="319.3" cy="58.2" r="12.1"/><circle cx="290.5" cy="52.2" r="12.1"/><circle cx="266.4" cy="76.3" r="12.1"/><circle cx="248.3" cy="96" r="12.1"/><circle cx="219.6" cy="43.1" r="12.1"/><circle cx="221" cy="64.3" r="12.1"/><circle cx="221" cy="108" r="12.1"/><circle cx="221" cy="139.8" r="12.1"/><circle cx="230" cy="170" r="12.1"/><circle cx="499.2" cy="343" r="12.1"/><circle cx="487.6" cy="376.9" r="12.1"/><circle cx="546" cy="378.8" r="12.1"/><circle cx="515.3" cy="401.8" r="12.1"/><circle cx="482.7" cy="399.9" r="12.1"/><circle cx="487.6" cy="426.4" r="12.1"/><circle cx="502.1" cy="434.2" r="12.1"/><circle cx="539.5" cy="432.5" r="12.1"/><circle cx="568.5" cy="460.8" r="12.1"/><circle cx="496" cy="486.9" r="12.1"/><circle cx="525" cy="485.6" r="12.1"/><circle cx="457.3" cy="346.7" r="12.1"/><circle cx="452.5" cy="366" r="12.1"/><circle cx="455" cy="392.6" r="12.1"/><circle cx="459.8" cy="414.3" r="12.1"/><circle cx="452.5" cy="448.2" r="12.1"/><circle cx="474.3" cy="455.4" r="12.1"/><circle cx="450" cy="298.3" r="12.1"/><circle cx="618.3" cy="503.4" r="12.1"/><circle cx="660" cy="505" r="12.1"/><circle cx="556.4" cy="533.7" r="12.1"/><circle cx="609.3" cy="556.3" r="12.1"/><circle cx="517.1" cy="559.3" r="12.1"/><circle cx="529.2" cy="563.9" r="12.1"/><circle cx="539.8" cy="591.1" r="12.1"/><circle cx="483.3" cy="580.5" r="12.1"/><circle cx="580.6" cy="605.6" r="12.1"/><circle cx="499" cy="603.1" r="12.1"/><circle cx="479.4" cy="611.6" r="12.1"/><circle cx="542.8" cy="624.9" r="12.1"/><circle cx="549.8" cy="630.9" r="12.1"/><circle cx="500.5" cy="635.8" r="12.1"/><circle cx="595.1" cy="643" r="12.1"/><circle cx="686.9" cy="650" r="12.1"/><circle cx="542.8" cy="666" r="12.1"/><circle cx="502" cy="668.1" r="12.1"/><circle cx="509.6" cy="677.2" r="12.1"/><circle cx="483.9" cy="690.8" r="12.1"/><circle cx="491.5" cy="699.2" r="12.1"/><circle cx="465.8" cy="671.1" r="12.1"/><circle cx="447.6" cy="667.2" r="12.1"/><circle cx="447.6" cy="645.4" r="12.1"/><circle cx="431" cy="633.4" r="12.1"/><circle cx="435" cy="577.5" r="12.1"/><circle cx="459.7" cy="588" r="12.1"/><circle cx="434" cy="610.7" r="12.1"/><circle cx="399.3" cy="671.1" r="12.1"/><circle cx="354" cy="684.7" r="12.1"/><circle cx="284.5" cy="702.8" r="12.1"/><circle cx="264.9" cy="713.4" r="12.1"/><circle cx="267.9" cy="680.2" r="12.1"/><circle cx="240.7" cy="616.7" r="12.1"/><circle cx="218" cy="662" r="12.1"/><circle cx="281.5" cy="624.3" r="12.1"/><circle cx="286" cy="656" r="12.1"/><circle cx="305.7" cy="678.7" r="12.1"/><circle cx="308.7" cy="692.3" r="12.1"/><circle cx="340.4" cy="665.1" r="12.1"/><circle cx="352.5" cy="621.3" r="12.1"/><circle cx="384.2" cy="618.2" r="12.1"/><circle cx="385.7" cy="643.9" r="12.1"/><circle cx="369.1" cy="640.9" r="12.1"/><circle cx="348" cy="644" r="12.1"/><circle cx="307.2" cy="618.2" r="12.1"/><circle cx="218" cy="577.5" r="12.1"/><circle cx="218" cy="604.7" r="12.1"/><circle cx="268.6" cy="588.2" r="12.1"/><circle cx="257" cy="553.4" r="12.1"/><circle cx="306.3" cy="708.5" r="12.1"/><circle cx="316.4" cy="727.4" r="12.1"/><circle cx="354.1" cy="707.1" r="12.1"/><circle cx="293.2" cy="583.8" r="12.1"/><circle cx="307.7" cy="599.8" r="12.1"/><circle cx="304.8" cy="615.7" r="12.1"/><circle cx="326.6" cy="598.3" r="12.1"/><circle cx="335.3" cy="618.6" r="12.1"/><circle cx="387.5" cy="605.6" r="12.1"/><circle cx="328" cy="638.9" r="12.1"/><circle cx="354.1" cy="566.4" r="12.1"/><circle cx="394.7" cy="559.2" r="12.1"/><circle cx="361.4" cy="530.2" r="12.1"/><circle cx="335.3" cy="534.5" r="12.1"/><circle cx="307.7" cy="553.4" r="12.1"/><circle cx="291.8" cy="528.7" r="12.1"/><circle cx="275.8" cy="549" r="12.1"/><circle cx="230.9" cy="533" r="12.1"/><circle cx="422.3" cy="534.5" r="12.1"/><circle cx="391.8" cy="599.8" r="12.1"/><circle cx="280.2" cy="656.3" r="12.1"/><circle cx="306.3" cy="691.1" r="12.1"/></g><g fill="#d62728" fill-opacity=".5" stroke="#000" stroke-opacity=".5" stroke-width="7.5"><circle cx="856.4" cy="761" r="12.1"/><circle cx="729.1" cy="757.4" r="12.1"/><circle cx="769.9" cy="772.8" r="12.1"/><circle cx="704.1" cy="777.8" r="12.1"/><circle cx="759.2" cy="755.1" r="12.1"/><circle cx="505.1" cy="749.5" r="12.1"/><circle cx="665.3" cy="770.4" r="12.1"/><circle cx="839" cy="779.6" r="12.1"/><circle cx="625.3" cy="763.7" r="12.1"/><circle cx="515.4" cy="770.1" r="12.1"/><circle cx="519.5" cy="762" r="12.1"/><circle cx="541.5" cy="759.4" r="12.1"/><circle cx="765.7" cy="756" r="12.1"/><circle cx="809.5" cy="742.1" r="12.1"/><circle cx="354.3" cy="726.4" r="12.1"/><circle cx="709.8" cy="734.2" r="12.1"/><circle cx="788.8" cy="769.2" r="12.1"/><circle cx="568.9" cy="757.7" r="12.1"/><circle cx="677.3" cy="750.5" r="12.1"/><circle cx="623.8" cy="758.9" r="12.1"/><circle cx="810.6" cy="752.2" r="12.1"/><circle cx="628.4" cy="741.6" r="12.1"/><circle cx="407.3" cy="735.4" r="12.1"/><circle cx="809.5" cy="748.9" r="12.1"/><circle cx="589.1" cy="748.8" r="12.1"/><circle cx="835.6" cy="785.7" r="12.1"/><circle cx="494.8" cy="733.7" r="12.1"/><circle cx="593.3" cy="747" r="12.1"/><circle cx="571.8" cy="744.1" r="12.1"/><circle cx="579" cy="734.4" r="12.1"/><circle cx="572.2" cy="759" r="12.1"/><circle cx="558.5" cy="768.8" r="12.1"/><circle cx="566.8" cy="726.6" r="12.1"/><circle cx="787.9" cy="770.2" r="12.1"/><circle cx="603.4" cy="769.5" r="12.1"/><circle cx="779.7" cy="764.3" r="12.1"/><circle cx="520.5" cy="725.3" r="12.1"/><circle cx="645.6" cy="743.2" r="12.1"/><circle cx="491.6" cy="730.8" r="12.1"/><circle cx="783.3" cy="761.4" r="12.1"/><circle cx="361.9" cy="741.7" r="12.1"/><circle cx="446.5" cy="741.1" r="12.1"/><circle cx="381.6" cy="740.1" r="12.1"/><circle cx="673.9" cy="764.9" r="12.1"/><circle cx="648.7" cy="760.2" r="12.1"/><circle cx="610.6" cy="753.7" r="12.1"/><circle cx="740.7" cy="756.7" r="12.1"/><circle cx="841.7" cy="748.1" r="12.1"/><circle cx="775.8" cy="751.4" r="12.1"/><circle cx="795.9" cy="757.7" r="12.1"/><circle cx="799.6" cy="750" r="12.1"/><circle cx="614.3" cy="739.4" r="12.1"/><circle cx="744.7" cy="740" r="12.1"/><circle cx="628.6" cy="741.8" r="12.1"/><circle cx="651.5" cy="740.4" r="12.1"/><circle cx="673.1" cy="731.7" r="12.1"/><circle cx="763.4" cy="776" r="12.1"/><circle cx="764.5" cy="764.4" r="12.1"/><circle cx="505.6" cy="748.3" r="12.1"/><circle cx="754.9" cy="769.5" r="12.1"/><circle cx="714.7" cy="761.3" r="12.1"/><circle cx="831.9" cy="747.3" r="12.1"/><circle cx="588.6" cy="725.1" r="12.1"/><circle cx="539.7" cy="758.9" r="12.1"/><circle cx="557.2" cy="730.3" r="12.1"/><circle cx="765.7" cy="777.2" r="12.1"/><circle cx="444.8" cy="730.4" r="12.1"/><circle cx="854.9" cy="760.7" r="12.1"/><circle cx="360.3" cy="742.9" r="12.1"/><circle cx="811.9" cy="750.9" r="12.1"/><circle cx="789.4" cy="753.3" r="12.1"/><circle cx="707.8" cy="772.5" r="12.1"/><circle cx="468.8" cy="742.3" r="12.1"/><circle cx="761.8" cy="777.5" r="12.1"/><circle cx="614" cy="739" r="12.1"/><circle cx="848.7" cy="751.6" r="12.1"/><circle cx="831.7" cy="754.9" r="12.1"/><circle cx="453.9" cy="734.9" r="12.1"/><circle cx="599.6" cy="770.4" r="12.1"/><circle cx="742.3" cy="775.5" r="12.1"/><circle cx="752.3" cy="743.4" r="12.1"/><circle cx="702.2" cy="761.5" r="12.1"/><circle cx="693.8" cy="774.8" r="12.1"/><circle cx="620.7" cy="753.8" r="12.1"/><circle cx="735.6" cy="780.1" r="12.1"/><circle cx="434.4" cy="731.4" r="12.1"/><circle cx="530.1" cy="752.3" r="12.1"/><circle cx="574.6" cy="750.7" r="12.1"/><circle cx="515.5" cy="743.2" r="12.1"/><circle cx="590" cy="742.6" r="12.1"/><circle cx="612.1" cy="774" r="12.1"/><circle cx="534.8" cy="771.9" r="12.1"/><circle cx="857.8" cy="780.5" r="12.1"/><circle cx="754.9" cy="759" r="12.1"/><circle cx="838.3" cy="772.9" r="12.1"/><circle cx="391.4" cy="744.7" r="12.1"/><circle cx="723.1" cy="745.5" r="12.1"/><circle cx="825.5" cy="770.9" r="12.1"/><circle cx="829.4" cy="772.6" r="12.1"/><circle cx="816.7" cy="770.3" r="12.1"/><circle cx="382.4" cy="720.2" r="12.1"/><circle cx="596.3" cy="749.8" r="12.1"/><circle cx="553.7" cy="734.4" r="12.1"/><circle cx="627.9" cy="734.1" r="12.1"/><circle cx="799.9" cy="787.8" r="12.1"/><circle cx="695.3" cy="744" r="12.1"/><circle cx="620.4" cy="745.2" r="12.1"/><circle cx="766.1" cy="763" r="12.1"/><circle cx="713.8" cy="747.6" r="12.1"/><circle cx="825.9" cy="767.8" r="12.1"/><circle cx="800.3" cy="765" r="12.1"/><circle cx="764.7" cy="771.6" r="12.1"/><circle cx="556.7" cy="753.9" r="12.1"/><circle cx="729.2" cy="772.6" r="12.1"/><circle cx="1058" cy="738.9" r="12.1"/><circle cx="1082.5" cy="740.2" r="12.1"/><circle cx="1151.8" cy="750.3" r="12.1"/><circle cx="1113.7" cy="765.3" r="12.1"/><circle cx="1272.8" cy="757.1" r="12.1"/><circle cx="1058" cy="785.6" r="12.1"/><circle cx="1105.6" cy="792.4" r="12.1"/><circle cx="1111" cy="806" r="12.1"/><circle cx="1105.6" cy="829.1" r="12.1"/><circle cx="1105.6" cy="829.1" r="12.1"/><circle cx="1230.6" cy="821" r="12.1"/><circle cx="1245.6" cy="816.9" r="12.1"/><circle cx="1246.4" cy="833.2" r="12.1"/><circle cx="1024" cy="765.3" r="12.1"/><circle cx="1011.8" cy="806" r="12.1"/><circle cx="1011.8" cy="821" r="12.1"/><circle cx="971" cy="811.5" r="12.1"/><circle cx="969.6" cy="768" r="12.1"/><circle cx="946.5" cy="773.4" r="12.1"/><circle cx="916.6" cy="787" r="12.1"/><circle cx="908.5" cy="735.3" r="12.1"/><circle cx="878.5" cy="738.1" r="12.1"/><circle cx="873.1" cy="808.8" r="12.1"/><circle cx="869" cy="772" r="12.1"/><circle cx="977.8" cy="792.4" r="12.1"/><circle cx="1462.1" cy="760.9" r="12.1"/><circle cx="1597" cy="887" r="12.1"/><circle cx="349" cy="737.3" r="12.1"/><circle cx="731" cy="723" r="12.1"/><circle cx="752" cy="725" r="12.1"/><circle cx="818.7" cy="726.8" r="12.1"/><circle cx="836" cy="728.5" r="12.1"/><circle cx="717" cy="795" r="12.1"/><circle cx="738" cy="795" r="12.1"/><circle cx="797.6" cy="802" r="12.1"/><circle cx="864" cy="809" r="12.1"/></g><g transform="translate(331.60 345.00) rotate(81.132)" fill="none" stroke-opacity="0.75" stroke-width="11.3"><ellipse cx="0" cy="0" rx="319.95" ry="140.95" stroke="#472d7b"/><ellipse cx="0" cy="0" rx="256.83" ry="113.14" stroke="#3b528b"/><ellipse cx="0" cy="0" rx="211.34" ry="93.10" stroke="#2c728e"/><ellipse cx="0" cy="0" rx="171.91" ry="75.73" stroke="#21918c"/><ellipse cx="0" cy="0" rx="133.53" ry="58.83" stroke="#28ae80"/><ellipse cx="0" cy="0" rx="90.85" ry="40.02" stroke="#5ec962"/><ellipse cx="0" cy="0" rx="12.54" ry="5.53" stroke="#addc30"/></g><g transform="translate(732.50 760.50) rotate(-175.608)" fill="none" stroke-opacity="0.75" stroke-width="11.3"><ellipse cx="0" cy="0" rx="458.17" ry="38.71" stroke="#4c02a1"/><ellipse cx="0" cy="0" rx="370.43" ry="31.30" stroke="#7e03a8"/><ellipse cx="0" cy="0" rx="307.72" ry="26.00" stroke="#aa2395"/><ellipse cx="0" cy="0" rx="254.01" ry="21.46" stroke="#cc4778"/><ellipse cx="0" cy="0" rx="202.78" ry="17.13" stroke="#e66c5c"/><ellipse cx="0" cy="0" rx="148.31" ry="12.53" stroke="#f89540"/><ellipse cx="0" cy="0" rx="76.34" ry="6.45" stroke="#fdc527"/></g></g><path d="M202.9 724.57 L1608.6 663.44" stroke="#000" stroke-width="11.7" fill="none"/></g><g transform="translate(0 927.2)"><g clip-path="url(#cA)"><path fill="#a50026" d="M1604.9 501.8 1605 895 832 895 693 854.6 585 825 537 812.8 500.9 804.2 467.9 797.1 437.9 791.3 407.9 786.3 380.9 782.7 353.9 780 326.9 778.3 299.9 777.5 269.9 777.8 239.9 779 206.9 781.3 206.9 670.4 254.9 679.6 293.9 685.4 332.9 689.4 368.9 691.2 405 691.4 446.9 689.7 491.9 686.2 546 680.4 609 672.2 678 662.1 771 647.4 879 629.5 1173 578.6Z"/><path fill="#006837" d="M209.9 22 1605 22 1604.9 501.8 1173 578.6 879 629.5 771 647.4 678 662.1 609 672.2 546 680.4 492 686.2 446.9 689.7 404.9 691.4 368.9 691.2 332.9 689.4 293.9 685.4 254.9 679.6 206.9 670.4 206.9 22ZM263.9 777.9 287.9 777.5 311.9 777.7 336 778.7 359.9 780.5 383.9 783 407.9 786.3 437.9 791.3 467.9 797.1 497.9 803.6 534 812 606 830.5 702 857.2 832 895 206.9 895 206.9 781.3 236.9 779.1Z"/><g><g fill="#2ca02c" fill-opacity=".5" stroke="#000" stroke-opacity=".5" stroke-width="7.5"><circle cx="302" cy="418.2" r="12.1"/><circle cx="305.1" cy="274.9" r="12.1"/><circle cx="312.4" cy="385" r="12.1"/><circle cx="277.4" cy="307.3" r="12.1"/><circle cx="277.7" cy="180.3" r="12.1"/><circle cx="326.8" cy="424.8" r="12.1"/><circle cx="441.2" cy="331.9" r="12.1"/><circle cx="309.6" cy="437.8" r="12.1"/><circle cx="365.2" cy="309.8" r="12.1"/><circle cx="396.2" cy="295" r="12.1"/><circle cx="288.9" cy="206.3" r="12.1"/><circle cx="381.2" cy="352.3" r="12.1"/><circle cx="387.9" cy="381.6" r="12.1"/><circle cx="244.6" cy="285.6" r="12.1"/><circle cx="328.5" cy="349.8" r="12.1"/><circle cx="419.4" cy="561.8" r="12.1"/><circle cx="414.9" cy="363.8" r="12.1"/><circle cx="261.2" cy="322.3" r="12.1"/><circle cx="387.3" cy="432.1" r="12.1"/><circle cx="271" cy="319.2" r="12.1"/><circle cx="383.5" cy="450.1" r="12.1"/><circle cx="295" cy="81.9" r="12.1"/><circle cx="360.9" cy="182.3" r="12.1"/><circle cx="430.9" cy="445.9" r="12.1"/><circle cx="296.8" cy="404.2" r="12.1"/><circle cx="266.5" cy="413.3" r="12.1"/><circle cx="365.2" cy="570.4" r="12.1"/><circle cx="201.1" cy="304.3" r="12.1"/><circle cx="426.7" cy="606" r="12.1"/><circle cx="430.7" cy="453.1" r="12.1"/><circle cx="295.2" cy="408" r="12.1"/><circle cx="255.2" cy="225.7" r="12.1"/><circle cx="294" cy="253" r="12.1"/><circle cx="377.8" cy="374.6" r="12.1"/><circle cx="417.1" cy="330.9" r="12.1"/><circle cx="365.7" cy="463.8" r="12.1"/><circle cx="344.4" cy="291" r="12.1"/><circle cx="383.2" cy="297" r="12.1"/><circle cx="321.2" cy="216.3" r="12.1"/><circle cx="367.2" cy="321.3" r="12.1"/><circle cx="354" cy="241.7" r="12.1"/><circle cx="266.4" cy="530.2" r="12.1"/><circle cx="250.6" cy="197.1" r="12.1"/><circle cx="377.9" cy="344.9" r="12.1"/><circle cx="361.7" cy="466.2" r="12.1"/><circle cx="269.4" cy="323.2" r="12.1"/><circle cx="292.1" cy="301.1" r="12.1"/><circle cx="294.2" cy="430.3" r="12.1"/><circle cx="342.3" cy="190.7" r="12.1"/><circle cx="235.1" cy="268.9" r="12.1"/><circle cx="335.3" cy="125.5" r="12.1"/><circle cx="348.1" cy="397" r="12.1"/><circle cx="227.4" cy="384" r="12.1"/><circle cx="328" cy="270.4" r="12.1"/><circle cx="278.4" cy="224.8" r="12.1"/><circle cx="287.6" cy="217.5" r="12.1"/><circle cx="385.2" cy="311.4" r="12.1"/><circle cx="467.3" cy="429.6" r="12.1"/><circle cx="329.1" cy="266.3" r="12.1"/><circle cx="428.9" cy="467.2" r="12.1"/><circle cx="368.5" cy="509.7" r="12.1"/><circle cx="384.5" cy="313.6" r="12.1"/><circle cx="303.9" cy="345" r="12.1"/><circle cx="387.6" cy="363.7" r="12.1"/><circle cx="343.7" cy="246.8" r="12.1"/><circle cx="445.1" cy="324.5" r="12.1"/><circle cx="388.8" cy="227.4" r="12.1"/><circle cx="247.8" cy="252.5" r="12.1"/><circle cx="229.9" cy="244.4" r="12.1"/><circle cx="408" cy="357.1" r="12.1"/><circle cx="379.7" cy="364.4" r="12.1"/><circle cx="317.1" cy="379.3" r="12.1"/><circle cx="345" cy="79.1" r="12.1"/><circle cx="410.7" cy="330.3" r="12.1"/><circle cx="271.8" cy="343.2" r="12.1"/><circle cx="301" cy="408.5" r="12.1"/><circle cx="330" cy="315.6" r="12.1"/><circle cx="314.9" cy="325.5" r="12.1"/><circle cx="297.5" cy="213.8" r="12.1"/><circle cx="380.7" cy="140.8" r="12.1"/><circle cx="326.3" cy="369.6" r="12.1"/><circle cx="343" cy="171.5" r="12.1"/><circle cx="195.4" cy="290.5" r="12.1"/><circle cx="314.5" cy="303.9" r="12.1"/><circle cx="247.4" cy="375.6" r="12.1"/><circle cx="398.9" cy="435.5" r="12.1"/><circle cx="256.5" cy="168.8" r="12.1"/><circle cx="289.7" cy="338.4" r="12.1"/><circle cx="250.8" cy="191.9" r="12.1"/><circle cx="336.1" cy="315.1" r="12.1"/><circle cx="341.6" cy="427.8" r="12.1"/><circle cx="361.5" cy="462.4" r="12.1"/><circle cx="264.1" cy="457.4" r="12.1"/><circle cx="266.5" cy="360.8" r="12.1"/><circle cx="353.2" cy="222" r="12.1"/><circle cx="391.3" cy="340.4" r="12.1"/><circle cx="339.3" cy="441.2" r="12.1"/><circle cx="440.4" cy="447.1" r="12.1"/><circle cx="312.3" cy="386.5" r="12.1"/><circle cx="319.8" cy="312.3" r="12.1"/><circle cx="414.5" cy="309.7" r="12.1"/><circle cx="332.3" cy="254.8" r="12.1"/><circle cx="253.4" cy="105.5" r="12.1"/><circle cx="255.2" cy="388.1" r="12.1"/><circle cx="323.8" cy="125.2" r="12.1"/><circle cx="195.8" cy="259.7" r="12.1"/><circle cx="375.2" cy="226" r="12.1"/><circle cx="385.7" cy="258.9" r="12.1"/><circle cx="211.6" cy="178.4" r="12.1"/><circle cx="393.1" cy="331.1" r="12.1"/><circle cx="376.9" cy="382.1" r="12.1"/><circle cx="341.7" cy="270.7" r="12.1"/><circle cx="296.9" cy="273.1" r="12.1"/><circle cx="241.4" cy="280" r="12.1"/><circle cx="355" cy="184.1" r="12.1"/><circle cx="376.2" cy="465.6" r="12.1"/><circle cx="392.2" cy="223.1" r="12.1"/><circle cx="322.9" cy="590.1" r="12.1"/><circle cx="319.1" cy="170.6" r="12.1"/><circle cx="336.8" cy="331" r="12.1"/><circle cx="387.6" cy="436.4" r="12.1"/><circle cx="360.6" cy="190.4" r="12.1"/><circle cx="342.1" cy="278.2" r="12.1"/><circle cx="417.3" cy="353.4" r="12.1"/><circle cx="308.7" cy="240.8" r="12.1"/><circle cx="228.2" cy="246.1" r="12.1"/><circle cx="358.6" cy="435.9" r="12.1"/><circle cx="349" cy="147.6" r="12.1"/><circle cx="391.3" cy="378.3" r="12.1"/><circle cx="333.6" cy="411.9" r="12.1"/><circle cx="301.4" cy="264.6" r="12.1"/><circle cx="422.7" cy="551.6" r="12.1"/><circle cx="394.7" cy="384.1" r="12.1"/><circle cx="374.9" cy="365" r="12.1"/><circle cx="293" cy="273.7" r="12.1"/><circle cx="404.1" cy="179.1" r="12.1"/><circle cx="300.8" cy="375.8" r="12.1"/><circle cx="287.5" cy="133.4" r="12.1"/><circle cx="414.3" cy="213.3" r="12.1"/><circle cx="432.8" cy="458.6" r="12.1"/><circle cx="399.8" cy="423.5" r="12.1"/><circle cx="417.9" cy="203.6" r="12.1"/><circle cx="331.9" cy="505.9" r="12.1"/><circle cx="395.7" cy="409.2" r="12.1"/><circle cx="308" cy="443.4" r="12.1"/><circle cx="399.9" cy="311.1" r="12.1"/><circle cx="347.7" cy="355.1" r="12.1"/><circle cx="307.2" cy="130.8" r="12.1"/><circle cx="262.5" cy="174.3" r="12.1"/><circle cx="367.8" cy="353.5" r="12.1"/><circle cx="361.4" cy="164.5" r="12.1"/><circle cx="319" cy="452.3" r="12.1"/><circle cx="280.3" cy="222.5" r="12.1"/><circle cx="339.4" cy="420.1" r="12.1"/><circle cx="405.3" cy="328.7" r="12.1"/><circle cx="280.4" cy="235.5" r="12.1"/><circle cx="401" cy="248.5" r="12.1"/><circle cx="447.2" cy="489.6" r="12.1"/><circle cx="319.7" cy="341.3" r="12.1"/><circle cx="308.3" cy="234.1" r="12.1"/><circle cx="450.9" cy="306.8" r="12.1"/><circle cx="336.4" cy="378.9" r="12.1"/><circle cx="360.2" cy="164.6" r="12.1"/><circle cx="277.3" cy="96.7" r="12.1"/><circle cx="247" cy="381" r="12.1"/><circle cx="344.5" cy="441.8" r="12.1"/><circle cx="280.5" cy="154.3" r="12.1"/><circle cx="318.8" cy="329.4" r="12.1"/><circle cx="379.4" cy="473.3" r="12.1"/><circle cx="424.5" cy="441.8" r="12.1"/><circle cx="361.6" cy="139.3" r="12.1"/><circle cx="447.6" cy="338.8" r="12.1"/><circle cx="371" cy="354.2" r="12.1"/><circle cx="458.4" cy="379.3" r="12.1"/><circle cx="317" cy="376.3" r="12.1"/><circle cx="308.3" cy="399.3" r="12.1"/><circle cx="335.1" cy="371" r="12.1"/><circle cx="324.1" cy="279.6" r="12.1"/><circle cx="374.1" cy="305.7" r="12.1"/><circle cx="253.2" cy="163.4" r="12.1"/><circle cx="369.1" cy="332.7" r="12.1"/><circle cx="295.2" cy="343.1" r="12.1"/><circle cx="346" cy="200.6" r="12.1"/><circle cx="367.6" cy="370.2" r="12.1"/><circle cx="286.1" cy="197.5" r="12.1"/><circle cx="345.7" cy="298.8" r="12.1"/><circle cx="245" cy="353.3" r="12.1"/><circle cx="353.2" cy="298.5" r="12.1"/><circle cx="393.6" cy="379.1" r="12.1"/><circle cx="409.1" cy="256.2" r="12.1"/><circle cx="306.1" cy="362.2" r="12.1"/><circle cx="391.4" cy="312.6" r="12.1"/><circle cx="283.6" cy="210.9" r="12.1"/><circle cx="198.5" cy="286.7" r="12.1"/><circle cx="404.9" cy="546.9" r="12.1"/><circle cx="413.2" cy="328.8" r="12.1"/><circle cx="302.5" cy="192.7" r="12.1"/><circle cx="380.5" cy="167.1" r="12.1"/><circle cx="304.4" cy="271.7" r="12.1"/><circle cx="284.4" cy="452.1" r="12.1"/><circle cx="392.8" cy="370.4" r="12.1"/><circle cx="371.2" cy="415.4" r="12.1"/><circle cx="352.8" cy="242.9" r="12.1"/><circle cx="413" cy="262.2" r="12.1"/><circle cx="415.1" cy="393.8" r="12.1"/><circle cx="401.2" cy="204" r="12.1"/><circle cx="381.2" cy="158.1" r="12.1"/><circle cx="380" cy="300.2" r="12.1"/><circle cx="404" cy="449.5" r="12.1"/><circle cx="282.3" cy="487.3" r="12.1"/><circle cx="340" cy="392.5" r="12.1"/><circle cx="426.3" cy="380.8" r="12.1"/><circle cx="274.6" cy="309.4" r="12.1"/><circle cx="291.5" cy="231.8" r="12.1"/><circle cx="381.1" cy="527.4" r="12.1"/><circle cx="232" cy="323.5" r="12.1"/><circle cx="386.5" cy="376.6" r="12.1"/><circle cx="396.6" cy="605.1" r="12.1"/><circle cx="299" cy="552.1" r="12.1"/><circle cx="320.1" cy="344.1" r="12.1"/><circle cx="305.6" cy="473.2" r="12.1"/><circle cx="326.1" cy="372.7" r="12.1"/><circle cx="332.5" cy="487.7" r="12.1"/><circle cx="349.3" cy="211.8" r="12.1"/><circle cx="384.3" cy="561.5" r="12.1"/><circle cx="425.9" cy="242.9" r="12.1"/><circle cx="382.7" cy="202.8" r="12.1"/><circle cx="350.9" cy="260.3" r="12.1"/><circle cx="241.7" cy="156.6" r="12.1"/><circle cx="371.5" cy="513.5" r="12.1"/><circle cx="301.5" cy="356" r="12.1"/><circle cx="244.2" cy="431.9" r="12.1"/><circle cx="292.5" cy="167.4" r="12.1"/><circle cx="261.3" cy="219.1" r="12.1"/><circle cx="320.1" cy="335.1" r="12.1"/><circle cx="443.5" cy="291" r="12.1"/><circle cx="295.3" cy="346" r="12.1"/><circle cx="270.7" cy="116" r="12.1"/><circle cx="465.1" cy="449.5" r="12.1"/><circle cx="288.2" cy="432.6" r="12.1"/><circle cx="344.3" cy="478" r="12.1"/><circle cx="312.8" cy="377" r="12.1"/><circle cx="323.1" cy="255.3" r="12.1"/><circle cx="281.6" cy="117.5" r="12.1"/><circle cx="347.7" cy="488.2" r="12.1"/><circle cx="218.1" cy="269.3" r="12.1"/><circle cx="397.1" cy="395.2" r="12.1"/><circle cx="364.5" cy="437.7" r="12.1"/><circle cx="320" cy="337.5" r="12.1"/><circle cx="320.3" cy="336.2" r="12.1"/><circle cx="435.9" cy="389.8" r="12.1"/><circle cx="337.6" cy="288.4" r="12.1"/><circle cx="244.9" cy="382.7" r="12.1"/><circle cx="328.8" cy="72.6" r="12.1"/><circle cx="338.7" cy="400.2" r="12.1"/><circle cx="254.2" cy="395.1" r="12.1"/><circle cx="347.5" cy="384.3" r="12.1"/><circle cx="367.9" cy="167" r="12.1"/><circle cx="248" cy="125.8" r="12.1"/><circle cx="301.8" cy="344.9" r="12.1"/><circle cx="408.5" cy="409.7" r="12.1"/><circle cx="286.1" cy="303.9" r="12.1"/><circle cx="292.9" cy="266.2" r="12.1"/><circle cx="336.5" cy="477" r="12.1"/><circle cx="335.4" cy="411.3" r="12.1"/><circle cx="371.4" cy="200.3" r="12.1"/><circle cx="306.1" cy="178.7" r="12.1"/><circle cx="218.4" cy="353.6" r="12.1"/><circle cx="213.4" cy="279.9" r="12.1"/><circle cx="284.6" cy="293" r="12.1"/><circle cx="446.7" cy="348.7" r="12.1"/><circle cx="385.1" cy="383.1" r="12.1"/><circle cx="313.1" cy="339.6" r="12.1"/><circle cx="448.2" cy="338.1" r="12.1"/><circle cx="305.8" cy="427.1" r="12.1"/><circle cx="230.6" cy="259.3" r="12.1"/><circle cx="290.2" cy="193.7" r="12.1"/><circle cx="263.1" cy="186.5" r="12.1"/><circle cx="205.3" cy="328.2" r="12.1"/><circle cx="384.2" cy="357.6" r="12.1"/><circle cx="382" cy="389.8" r="12.1"/><circle cx="307.7" cy="96.1" r="12.1"/><circle cx="370.7" cy="343.1" r="12.1"/><circle cx="301.4" cy="383.9" r="12.1"/><circle cx="347.6" cy="374.5" r="12.1"/><circle cx="308.6" cy="80.5" r="12.1"/><circle cx="368.1" cy="456.8" r="12.1"/><circle cx="327.3" cy="285.1" r="12.1"/><circle cx="309.4" cy="539.9" r="12.1"/><circle cx="404.6" cy="484.9" r="12.1"/><circle cx="440.6" cy="370.9" r="12.1"/><circle cx="380.2" cy="219.7" r="12.1"/><circle cx="254.3" cy="204.7" r="12.1"/><circle cx="336.6" cy="170.4" r="12.1"/><circle cx="311.8" cy="194" r="12.1"/><circle cx="378.4" cy="151.3" r="12.1"/><circle cx="412.2" cy="602" r="12.1"/><circle cx="255.4" cy="336.2" r="12.1"/><circle cx="200.5" cy="257.8" r="12.1"/><circle cx="251.8" cy="329.9" r="12.1"/><circle cx="325.8" cy="327.9" r="12.1"/><circle cx="273.7" cy="227.3" r="12.1"/><circle cx="444.3" cy="409.2" r="12.1"/><circle cx="274.2" cy="421.5" r="12.1"/><circle cx="306.9" cy="190.6" r="12.1"/><circle cx="244.1" cy="450" r="12.1"/><circle cx="327.7" cy="257.6" r="12.1"/><circle cx="278.2" cy="390.9" r="12.1"/><circle cx="315.2" cy="363.5" r="12.1"/><circle cx="417.5" cy="348" r="12.1"/><circle cx="398.2" cy="363.1" r="12.1"/><circle cx="223.3" cy="282.4" r="12.1"/><circle cx="357.3" cy="463.8" r="12.1"/><circle cx="251.2" cy="469.7" r="12.1"/><circle cx="292" cy="381" r="12.1"/><circle cx="310.8" cy="480.5" r="12.1"/><circle cx="275.1" cy="254.2" r="12.1"/><circle cx="240.5" cy="234.6" r="12.1"/><circle cx="408.7" cy="161.7" r="12.1"/><circle cx="430.7" cy="434.2" r="12.1"/><circle cx="383.3" cy="312.6" r="12.1"/><circle cx="420.1" cy="455.8" r="12.1"/><circle cx="449.5" cy="334.2" r="12.1"/><circle cx="446.2" cy="362.6" r="12.1"/><circle cx="372.3" cy="161" r="12.1"/><circle cx="288.3" cy="437.9" r="12.1"/><circle cx="270.2" cy="432.8" r="12.1"/><circle cx="319.5" cy="167.4" r="12.1"/><circle cx="303.4" cy="501" r="12.1"/><circle cx="363" cy="254.9" r="12.1"/><circle cx="243.7" cy="258.1" r="12.1"/><circle cx="390.4" cy="631" r="12.1"/><circle cx="230.4" cy="208.5" r="12.1"/><circle cx="291.1" cy="442.9" r="12.1"/><circle cx="316.4" cy="261.7" r="12.1"/><circle cx="346.7" cy="367.3" r="12.1"/><circle cx="432.6" cy="358.7" r="12.1"/><circle cx="361.8" cy="405.5" r="12.1"/><circle cx="401.5" cy="364.6" r="12.1"/><circle cx="283.5" cy="468.3" r="12.1"/><circle cx="387.2" cy="329.2" r="12.1"/><circle cx="332.2" cy="469.9" r="12.1"/><circle cx="320.9" cy="312.9" r="12.1"/><circle cx="220.4" cy="193.6" r="12.1"/><circle cx="288.4" cy="379.7" r="12.1"/><circle cx="369.6" cy="315.4" r="12.1"/><circle cx="374.3" cy="418.5" r="12.1"/><circle cx="284" cy="255" r="12.1"/><circle cx="350.7" cy="456.2" r="12.1"/><circle cx="293.7" cy="328.3" r="12.1"/><circle cx="369.6" cy="236.2" r="12.1"/><circle cx="295.6" cy="300.9" r="12.1"/><circle cx="372.6" cy="350.5" r="12.1"/><circle cx="340.4" cy="212" r="12.1"/><circle cx="363.4" cy="171.2" r="12.1"/><circle cx="239.2" cy="217.2" r="12.1"/><circle cx="285.6" cy="443.5" r="12.1"/><circle cx="325" cy="331.1" r="12.1"/><circle cx="287.8" cy="174.8" r="12.1"/><circle cx="380" cy="384.6" r="12.1"/><circle cx="350.9" cy="270.5" r="12.1"/><circle cx="229.8" cy="261.6" r="12.1"/><circle cx="335.4" cy="535.6" r="12.1"/><circle cx="382.4" cy="360.3" r="12.1"/><circle cx="351.1" cy="163.6" r="12.1"/><circle cx="337.8" cy="421.1" r="12.1"/><circle cx="289.9" cy="419.4" r="12.1"/><circle cx="371.9" cy="192.3" r="12.1"/><circle cx="302.6" cy="395.9" r="12.1"/><circle cx="430" cy="340.4" r="12.1"/><circle cx="324.4" cy="419.7" r="12.1"/><circle cx="371.6" cy="320.3" r="12.1"/><circle cx="351.3" cy="325.2" r="12.1"/><circle cx="259.8" cy="80.2" r="12.1"/><circle cx="198.4" cy="204.8" r="12.1"/><circle cx="385.6" cy="469.3" r="12.1"/><circle cx="373.5" cy="116.5" r="12.1"/><circle cx="430.8" cy="360.7" r="12.1"/><circle cx="404.4" cy="392.3" r="12.1"/><circle cx="273.9" cy="409.3" r="12.1"/><circle cx="279.4" cy="317.4" r="12.1"/><circle cx="283.5" cy="491.1" r="12.1"/><circle cx="342.8" cy="94" r="12.1"/><circle cx="276.7" cy="241.4" r="12.1"/><circle cx="352" cy="342.2" r="12.1"/><circle cx="317.3" cy="193.2" r="12.1"/><circle cx="370" cy="408.2" r="12.1"/><circle cx="410.9" cy="273.5" r="12.1"/><circle cx="271.7" cy="278.9" r="12.1"/><circle cx="299.1" cy="467.7" r="12.1"/><circle cx="417.9" cy="403.3" r="12.1"/><circle cx="342.2" cy="358.5" r="12.1"/><circle cx="264.6" cy="362" r="12.1"/><circle cx="350.4" cy="421.6" r="12.1"/><circle cx="263.1" cy="439" r="12.1"/><circle cx="406.3" cy="206.1" r="12.1"/><circle cx="403.5" cy="498.1" r="12.1"/><circle cx="250" cy="350.4" r="12.1"/><circle cx="365.7" cy="199.3" r="12.1"/><circle cx="237.8" cy="292.2" r="12.1"/><circle cx="374.3" cy="375.7" r="12.1"/><circle cx="228.8" cy="379" r="12.1"/><circle cx="216.7" cy="281.5" r="12.1"/><circle cx="263.5" cy="383.5" r="12.1"/><circle cx="352.5" cy="318.4" r="12.1"/><circle cx="434" cy="355.6" r="12.1"/><circle cx="356.4" cy="434.1" r="12.1"/><circle cx="261.7" cy="148.1" r="12.1"/><circle cx="306.1" cy="435.2" r="12.1"/><circle cx="402" cy="267.8" r="12.1"/><circle cx="239.4" cy="264.7" r="12.1"/><circle cx="249.3" cy="139.9" r="12.1"/><circle cx="401.1" cy="586.9" r="12.1"/><circle cx="310.9" cy="438.1" r="12.1"/><circle cx="363.3" cy="483.7" r="12.1"/><circle cx="279.8" cy="207.3" r="12.1"/><circle cx="422.4" cy="369.4" r="12.1"/><circle cx="368.6" cy="335.1" r="12.1"/><circle cx="373.2" cy="140.5" r="12.1"/><circle cx="338.9" cy="421.3" r="12.1"/><circle cx="318.2" cy="396" r="12.1"/><circle cx="324.1" cy="436.4" r="12.1"/><circle cx="322.8" cy="218.2" r="12.1"/><circle cx="372.3" cy="267.4" r="12.1"/><circle cx="295.7" cy="349.5" r="12.1"/><circle cx="303.1" cy="389.8" r="12.1"/><circle cx="282" cy="227.4" r="12.1"/><circle cx="402" cy="356.3" r="12.1"/><circle cx="346.4" cy="275.5" r="12.1"/><circle cx="380.3" cy="524.2" r="12.1"/><circle cx="331.1" cy="468" r="12.1"/><circle cx="319.8" cy="416.6" r="12.1"/><circle cx="432.7" cy="391.8" r="12.1"/><circle cx="348.8" cy="445.2" r="12.1"/><circle cx="289.9" cy="447.6" r="12.1"/><circle cx="290" cy="222.8" r="12.1"/><circle cx="400.6" cy="317.7" r="12.1"/><circle cx="384.3" cy="197.8" r="12.1"/><circle cx="241.3" cy="108.8" r="12.1"/><circle cx="416.8" cy="333.4" r="12.1"/><circle cx="344.5" cy="419.5" r="12.1"/><circle cx="235.4" cy="190.2" r="12.1"/><circle cx="325.6" cy="239.5" r="12.1"/><circle cx="374.1" cy="284.7" r="12.1"/><circle cx="291" cy="294.7" r="12.1"/><circle cx="374.8" cy="289.6" r="12.1"/><circle cx="433.5" cy="230.5" r="12.1"/><circle cx="323.5" cy="340.1" r="12.1"/><circle cx="354.6" cy="195" r="12.1"/><circle cx="335.1" cy="353.4" r="12.1"/><circle cx="303.2" cy="421.6" r="12.1"/><circle cx="235.4" cy="339" r="12.1"/><circle cx="261.7" cy="209.7" r="12.1"/><circle cx="284.9" cy="272.6" r="12.1"/><circle cx="266" cy="348.4" r="12.1"/><circle cx="359.3" cy="437.1" r="12.1"/><circle cx="391.7" cy="363.3" r="12.1"/><circle cx="349.8" cy="114.3" r="12.1"/><circle cx="295.4" cy="241.8" r="12.1"/><circle cx="336" cy="203.8" r="12.1"/><circle cx="250.5" cy="109.1" r="12.1"/><circle cx="381.8" cy="422.1" r="12.1"/><circle cx="309.7" cy="194.5" r="12.1"/><circle cx="273.2" cy="453" r="12.1"/><circle cx="306.4" cy="524.8" r="12.1"/><circle cx="440.5" cy="351.9" r="12.1"/><circle cx="441.1" cy="371.1" r="12.1"/><circle cx="360.2" cy="334.3" r="12.1"/><circle cx="261.5" cy="344.3" r="12.1"/><circle cx="423.3" cy="228.6" r="12.1"/><circle cx="247.7" cy="341" r="12.1"/><circle cx="311.9" cy="200.8" r="12.1"/><circle cx="317.9" cy="469.2" r="12.1"/><circle cx="379.8" cy="400.6" r="12.1"/><circle cx="318.7" cy="451" r="12.1"/><circle cx="365.2" cy="315.9" r="12.1"/><circle cx="313.3" cy="139" r="12.1"/><circle cx="419.6" cy="418.3" r="12.1"/><circle cx="318.9" cy="343.1" r="12.1"/><circle cx="284.4" cy="377.4" r="12.1"/><circle cx="355.9" cy="308.3" r="12.1"/><circle cx="265.5" cy="402.5" r="12.1"/><circle cx="314.1" cy="479.2" r="12.1"/><circle cx="259.8" cy="395.1" r="12.1"/><circle cx="360.4" cy="325.9" r="12.1"/><circle cx="340" cy="480.3" r="12.1"/><circle cx="344.6" cy="213.8" r="12.1"/><circle cx="302" cy="299.1" r="12.1"/><circle cx="328.2" cy="227.6" r="12.1"/><circle cx="318.6" cy="350.3" r="12.1"/><circle cx="269.9" cy="195" r="12.1"/><circle cx="430" cy="392.6" r="12.1"/><circle cx="428.8" cy="322.3" r="12.1"/><circle cx="252.6" cy="352.3" r="12.1"/><circle cx="277.4" cy="453.7" r="12.1"/><circle cx="415.2" cy="394.6" r="12.1"/><circle cx="315.8" cy="293.7" r="12.1"/><circle cx="391.4" cy="375.8" r="12.1"/><circle cx="321.1" cy="327.4" r="12.1"/><circle cx="290" cy="580.4" r="12.1"/><circle cx="340.9" cy="163.9" r="12.1"/><circle cx="242.5" cy="360.4" r="12.1"/><circle cx="254.9" cy="388.7" r="12.1"/><circle cx="206.6" cy="247.5" r="12.1"/><circle cx="337.3" cy="205.8" r="12.1"/><circle cx="354.8" cy="358.6" r="12.1"/><circle cx="293.7" cy="239.9" r="12.1"/><circle cx="373.4" cy="605.4" r="12.1"/><circle cx="331.1" cy="394.4" r="12.1"/><circle cx="366.4" cy="376.8" r="12.1"/><circle cx="318.7" cy="342.6" r="12.1"/><circle cx="250.8" cy="226.7" r="12.1"/><circle cx="392.7" cy="399.1" r="12.1"/><circle cx="356.7" cy="489.2" r="12.1"/><circle cx="353.6" cy="203.5" r="12.1"/><circle cx="239.4" cy="457.2" r="12.1"/><circle cx="390.9" cy="464.2" r="12.1"/><circle cx="353.3" cy="129.2" r="12.1"/><circle cx="231.5" cy="179.2" r="12.1"/><circle cx="316.2" cy="417.9" r="12.1"/><circle cx="258.7" cy="410.9" r="12.1"/><circle cx="353.3" cy="397" r="12.1"/><circle cx="315.2" cy="161.9" r="12.1"/><circle cx="285.2" cy="448" r="12.1"/><circle cx="236.2" cy="248.2" r="12.1"/><circle cx="418.2" cy="352.6" r="12.1"/><circle cx="342.1" cy="414.2" r="12.1"/><circle cx="334.9" cy="161.4" r="12.1"/><circle cx="264.8" cy="73" r="12.1"/><circle cx="259.7" cy="362.1" r="12.1"/><circle cx="431.5" cy="249.9" r="12.1"/><circle cx="362.4" cy="185.7" r="12.1"/><circle cx="445.9" cy="399.1" r="12.1"/><circle cx="316.9" cy="434.5" r="12.1"/><circle cx="349.8" cy="428.9" r="12.1"/><circle cx="297.1" cy="423.3" r="12.1"/><circle cx="337.5" cy="366" r="12.1"/><circle cx="400.1" cy="363.7" r="12.1"/><circle cx="259.9" cy="270.3" r="12.1"/><circle cx="397.2" cy="227.6" r="12.1"/><circle cx="378.7" cy="278.3" r="12.1"/><circle cx="317.8" cy="485.9" r="12.1"/><circle cx="336.6" cy="309.4" r="12.1"/><circle cx="390" cy="338.2" r="12.1"/><circle cx="449.2" cy="295.6" r="12.1"/><circle cx="411.3" cy="352.5" r="12.1"/><circle cx="304.8" cy="283.1" r="12.1"/><circle cx="343.6" cy="330.3" r="12.1"/><circle cx="327.1" cy="295.2" r="12.1"/><circle cx="435.7" cy="442.9" r="12.1"/><circle cx="382.8" cy="359.8" r="12.1"/><circle cx="281.8" cy="506.8" r="12.1"/><circle cx="371.6" cy="559.5" r="12.1"/><circle cx="277.4" cy="416.2" r="12.1"/><circle cx="322.6" cy="126.2" r="12.1"/><circle cx="361.9" cy="103.2" r="12.1"/><circle cx="338.2" cy="238.4" r="12.1"/><circle cx="402.8" cy="294.7" r="12.1"/><circle cx="267.8" cy="191.8" r="12.1"/><circle cx="441.1" cy="393.4" r="12.1"/><circle cx="358.2" cy="252.1" r="12.1"/><circle cx="248.2" cy="379.4" r="12.1"/><circle cx="436.3" cy="311.5" r="12.1"/><circle cx="367.2" cy="329" r="12.1"/><circle cx="281.3" cy="281.2" r="12.1"/><circle cx="250.7" cy="233.4" r="12.1"/><circle cx="383.8" cy="210.9" r="12.1"/><circle cx="255.4" cy="307.1" r="12.1"/><circle cx="296.7" cy="87.5" r="12.1"/><circle cx="306.6" cy="364.7" r="12.1"/><circle cx="250.8" cy="274.8" r="12.1"/><circle cx="287.5" cy="332.8" r="12.1"/><circle cx="254.1" cy="398.8" r="12.1"/><circle cx="374.5" cy="377.6" r="12.1"/><circle cx="289.3" cy="384.6" r="12.1"/><circle cx="286.4" cy="54.1" r="12.1"/><circle cx="250.3" cy="301.6" r="12.1"/><circle cx="339.7" cy="375.5" r="12.1"/><circle cx="316.9" cy="263.8" r="12.1"/><circle cx="373.1" cy="192.8" r="12.1"/><circle cx="276.6" cy="88" r="12.1"/><circle cx="406.8" cy="405.6" r="12.1"/><circle cx="445.5" cy="344.8" r="12.1"/><circle cx="447.2" cy="424.2" r="12.1"/><circle cx="337.1" cy="425.1" r="12.1"/><circle cx="273" cy="475.1" r="12.1"/><circle cx="261.6" cy="240.1" r="12.1"/><circle cx="406" cy="384.5" r="12.1"/><circle cx="378.4" cy="462.5" r="12.1"/><circle cx="195.2" cy="273.3" r="12.1"/><circle cx="354.6" cy="412.1" r="12.1"/><circle cx="443.9" cy="390.7" r="12.1"/><circle cx="315.6" cy="322.4" r="12.1"/><circle cx="281.1" cy="349.7" r="12.1"/><circle cx="270.4" cy="422.7" r="12.1"/><circle cx="418.5" cy="459.6" r="12.1"/><circle cx="398.4" cy="462.1" r="12.1"/><circle cx="384.2" cy="329.1" r="12.1"/><circle cx="303.8" cy="317.7" r="12.1"/><circle cx="320.5" cy="278.7" r="12.1"/><circle cx="278.7" cy="457.2" r="12.1"/><circle cx="375.2" cy="589.5" r="12.1"/><circle cx="346.8" cy="400.7" r="12.1"/><circle cx="385.9" cy="273" r="12.1"/><circle cx="405.8" cy="556.3" r="12.1"/><circle cx="381" cy="432.8" r="12.1"/><circle cx="327.5" cy="199.8" r="12.1"/><circle cx="393.6" cy="350.6" r="12.1"/><circle cx="288.8" cy="129.6" r="12.1"/><circle cx="247.4" cy="81.4" r="12.1"/><circle cx="234.1" cy="130.9" r="12.1"/><circle cx="300.5" cy="270.8" r="12.1"/><circle cx="352.3" cy="603.1" r="12.1"/><circle cx="260.1" cy="176.8" r="12.1"/><circle cx="268.8" cy="405.9" r="12.1"/><circle cx="288.1" cy="284" r="12.1"/><circle cx="292.3" cy="439.7" r="12.1"/><circle cx="367.6" cy="413.8" r="12.1"/><circle cx="415.4" cy="307.6" r="12.1"/><circle cx="249" cy="361.2" r="12.1"/><circle cx="347.7" cy="391.3" r="12.1"/><circle cx="347" cy="336" r="12.1"/><circle cx="325.7" cy="421" r="12.1"/><circle cx="360.3" cy="555.4" r="12.1"/><circle cx="225.3" cy="230" r="12.1"/><circle cx="397.3" cy="421.2" r="12.1"/><circle cx="240.9" cy="98.6" r="12.1"/><circle cx="420.1" cy="436.4" r="12.1"/><circle cx="269.8" cy="137.9" r="12.1"/><circle cx="314.6" cy="484.1" r="12.1"/><circle cx="282.1" cy="278.6" r="12.1"/><circle cx="302.1" cy="135" r="12.1"/><circle cx="240.2" cy="409" r="12.1"/><circle cx="412.1" cy="348.6" r="12.1"/><circle cx="403.4" cy="367.5" r="12.1"/><circle cx="414.3" cy="241.7" r="12.1"/><circle cx="269.5" cy="280.7" r="12.1"/><circle cx="280" cy="206.3" r="12.1"/><circle cx="270.4" cy="273.3" r="12.1"/><circle cx="370" cy="284.6" r="12.1"/><circle cx="225.9" cy="192.3" r="12.1"/><circle cx="236.9" cy="458" r="12.1"/><circle cx="294.7" cy="105.3" r="12.1"/><circle cx="358.6" cy="476.3" r="12.1"/><circle cx="266.4" cy="88.8" r="12.1"/><circle cx="299.2" cy="423.6" r="12.1"/><circle cx="299.5" cy="443.3" r="12.1"/><circle cx="342.5" cy="309" r="12.1"/><circle cx="251.5" cy="159.9" r="12.1"/><circle cx="321.2" cy="311.3" r="12.1"/><circle cx="365" cy="326.8" r="12.1"/><circle cx="406.5" cy="184.9" r="12.1"/><circle cx="422.9" cy="359.3" r="12.1"/><circle cx="359.6" cy="444.6" r="12.1"/><circle cx="273.8" cy="324" r="12.1"/><circle cx="347.9" cy="148.2" r="12.1"/><circle cx="285.2" cy="544.5" r="12.1"/><circle cx="343.7" cy="328.7" r="12.1"/><circle cx="265.7" cy="282.9" r="12.1"/><circle cx="307.8" cy="336" r="12.1"/><circle cx="320.8" cy="287.3" r="12.1"/><circle cx="325.5" cy="373.4" r="12.1"/><circle cx="270.8" cy="114.6" r="12.1"/><circle cx="273.8" cy="323.5" r="12.1"/><circle cx="355.3" cy="316.2" r="12.1"/><circle cx="459.8" cy="393.8" r="12.1"/><circle cx="242.2" cy="126.7" r="12.1"/><circle cx="341.7" cy="356.5" r="12.1"/><circle cx="266.4" cy="289" r="12.1"/><circle cx="416.9" cy="234.4" r="12.1"/><circle cx="248.2" cy="214" r="12.1"/><circle cx="227.4" cy="210.8" r="12.1"/><circle cx="409.1" cy="261.7" r="12.1"/><circle cx="282.1" cy="386.2" r="12.1"/><circle cx="227.4" cy="230.5" r="12.1"/><circle cx="234.7" cy="401.4" r="12.1"/><circle cx="343.1" cy="159" r="12.1"/><circle cx="322.8" cy="433.7" r="12.1"/><circle cx="370.6" cy="426.6" r="12.1"/><circle cx="358.4" cy="237.5" r="12.1"/><circle cx="316.8" cy="249" r="12.1"/><circle cx="411.6" cy="294.7" r="12.1"/><circle cx="291.2" cy="267" r="12.1"/><circle cx="309.5" cy="337.4" r="12.1"/><circle cx="281.1" cy="409.7" r="12.1"/><circle cx="306.6" cy="142.7" r="12.1"/><circle cx="229.7" cy="226.8" r="12.1"/><circle cx="245.2" cy="492.2" r="12.1"/><circle cx="375.8" cy="347.1" r="12.1"/><circle cx="381.8" cy="363.1" r="12.1"/><circle cx="201.2" cy="320.9" r="12.1"/><circle cx="376.8" cy="230.9" r="12.1"/><circle cx="277.7" cy="308.9" r="12.1"/><circle cx="275.5" cy="156" r="12.1"/><circle cx="208.2" cy="323.1" r="12.1"/><circle cx="255.5" cy="392.3" r="12.1"/><circle cx="297.5" cy="373" r="12.1"/><circle cx="316.4" cy="335.6" r="12.1"/><circle cx="432.7" cy="388.1" r="12.1"/><circle cx="362.6" cy="502.7" r="12.1"/><circle cx="444.7" cy="368.2" r="12.1"/><circle cx="323.4" cy="68.2" r="12.1"/><circle cx="399.7" cy="177.5" r="12.1"/><circle cx="306.9" cy="259.7" r="12.1"/><circle cx="301.6" cy="164.2" r="12.1"/><circle cx="466.2" cy="448.2" r="12.1"/><circle cx="266.1" cy="142.7" r="12.1"/><circle cx="366.7" cy="335.3" r="12.1"/><circle cx="233.3" cy="384.5" r="12.1"/><circle cx="342.4" cy="173.7" r="12.1"/><circle cx="309" cy="413.9" r="12.1"/><circle cx="234.7" cy="347.7" r="12.1"/><circle cx="358.8" cy="103.2" r="12.1"/><circle cx="394.9" cy="551.2" r="12.1"/><circle cx="313" cy="409.2" r="12.1"/><circle cx="262.2" cy="334.5" r="12.1"/><circle cx="341.9" cy="410.7" r="12.1"/><circle cx="268" cy="293.3" r="12.1"/><circle cx="271.1" cy="373.2" r="12.1"/><circle cx="447.6" cy="89.9" r="12.1"/><circle cx="418.9" cy="86.9" r="12.1"/><circle cx="402.3" cy="96" r="12.1"/><circle cx="379.7" cy="97.5" r="12.1"/><circle cx="486.9" cy="142.2" r="12.1"/><circle cx="417.4" cy="150.4" r="12.1"/><circle cx="391.8" cy="120.1" r="12.1"/><circle cx="408.4" cy="183.6" r="12.1"/><circle cx="431" cy="191.1" r="12.1"/><circle cx="462.2" cy="215.9" r="12.1"/><circle cx="490" cy="216.8" r="12.1"/><circle cx="498.4" cy="240.1" r="12.1"/><circle cx="519.6" cy="240.1" r="12.1"/><circle cx="447.6" cy="236.5" r="12.1"/><circle cx="432.5" cy="228.9" r="12.1"/><circle cx="485.4" cy="308.4" r="12.1"/><circle cx="505" cy="308.4" r="12.1"/><circle cx="453.7" cy="299.9" r="12.1"/><circle cx="441.6" cy="274.2" r="12.1"/><circle cx="354" cy="94.5" r="12.1"/><circle cx="335.9" cy="64.3" r="12.1"/><circle cx="319.3" cy="58.2" r="12.1"/><circle cx="290.5" cy="52.2" r="12.1"/><circle cx="266.4" cy="76.3" r="12.1"/><circle cx="248.3" cy="96" r="12.1"/><circle cx="219.6" cy="43.1" r="12.1"/><circle cx="221" cy="64.3" r="12.1"/><circle cx="221" cy="108" r="12.1"/><circle cx="221" cy="139.8" r="12.1"/><circle cx="230" cy="170" r="12.1"/><circle cx="499.2" cy="343" r="12.1"/><circle cx="487.6" cy="376.9" r="12.1"/><circle cx="546" cy="378.8" r="12.1"/><circle cx="515.3" cy="401.8" r="12.1"/><circle cx="482.7" cy="399.9" r="12.1"/><circle cx="487.6" cy="426.4" r="12.1"/><circle cx="502.1" cy="434.2" r="12.1"/><circle cx="539.5" cy="432.5" r="12.1"/><circle cx="568.5" cy="460.8" r="12.1"/><circle cx="496" cy="486.9" r="12.1"/><circle cx="525" cy="485.6" r="12.1"/><circle cx="457.3" cy="346.7" r="12.1"/><circle cx="452.5" cy="366" r="12.1"/><circle cx="455" cy="392.6" r="12.1"/><circle cx="459.8" cy="414.3" r="12.1"/><circle cx="452.5" cy="448.2" r="12.1"/><circle cx="474.3" cy="455.4" r="12.1"/><circle cx="450" cy="298.3" r="12.1"/><circle cx="618.3" cy="503.4" r="12.1"/><circle cx="660" cy="505" r="12.1"/><circle cx="556.4" cy="533.7" r="12.1"/><circle cx="609.3" cy="556.3" r="12.1"/><circle cx="517.1" cy="559.3" r="12.1"/><circle cx="529.2" cy="563.9" r="12.1"/><circle cx="539.8" cy="591.1" r="12.1"/><circle cx="483.3" cy="580.5" r="12.1"/><circle cx="580.6" cy="605.6" r="12.1"/><circle cx="499" cy="603.1" r="12.1"/><circle cx="479.4" cy="611.6" r="12.1"/><circle cx="542.8" cy="624.9" r="12.1"/><circle cx="549.8" cy="630.9" r="12.1"/><circle cx="500.5" cy="635.8" r="12.1"/><circle cx="595.1" cy="643" r="12.1"/><circle cx="686.9" cy="650" r="12.1"/><circle cx="542.8" cy="666" r="12.1"/><circle cx="502" cy="668.1" r="12.1"/><circle cx="509.6" cy="677.2" r="12.1"/><circle cx="483.9" cy="690.8" r="12.1"/><circle cx="491.5" cy="699.2" r="12.1"/><circle cx="465.8" cy="671.1" r="12.1"/><circle cx="447.6" cy="667.2" r="12.1"/><circle cx="447.6" cy="645.4" r="12.1"/><circle cx="431" cy="633.4" r="12.1"/><circle cx="435" cy="577.5" r="12.1"/><circle cx="459.7" cy="588" r="12.1"/><circle cx="434" cy="610.7" r="12.1"/><circle cx="399.3" cy="671.1" r="12.1"/><circle cx="354" cy="684.7" r="12.1"/><circle cx="284.5" cy="702.8" r="12.1"/><circle cx="264.9" cy="713.4" r="12.1"/><circle cx="267.9" cy="680.2" r="12.1"/><circle cx="240.7" cy="616.7" r="12.1"/><circle cx="218" cy="662" r="12.1"/><circle cx="281.5" cy="624.3" r="12.1"/><circle cx="286" cy="656" r="12.1"/><circle cx="305.7" cy="678.7" r="12.1"/><circle cx="308.7" cy="692.3" r="12.1"/><circle cx="340.4" cy="665.1" r="12.1"/><circle cx="352.5" cy="621.3" r="12.1"/><circle cx="384.2" cy="618.2" r="12.1"/><circle cx="385.7" cy="643.9" r="12.1"/><circle cx="369.1" cy="640.9" r="12.1"/><circle cx="348" cy="644" r="12.1"/><circle cx="307.2" cy="618.2" r="12.1"/><circle cx="218" cy="577.5" r="12.1"/><circle cx="218" cy="604.7" r="12.1"/><circle cx="268.6" cy="588.2" r="12.1"/><circle cx="257" cy="553.4" r="12.1"/><circle cx="306.3" cy="708.5" r="12.1"/><circle cx="316.4" cy="727.4" r="12.1"/><circle cx="354.1" cy="707.1" r="12.1"/><circle cx="293.2" cy="583.8" r="12.1"/><circle cx="307.7" cy="599.8" r="12.1"/><circle cx="304.8" cy="615.7" r="12.1"/><circle cx="326.6" cy="598.3" r="12.1"/><circle cx="335.3" cy="618.6" r="12.1"/><circle cx="387.5" cy="605.6" r="12.1"/><circle cx="328" cy="638.9" r="12.1"/><circle cx="354.1" cy="566.4" r="12.1"/><circle cx="394.7" cy="559.2" r="12.1"/><circle cx="361.4" cy="530.2" r="12.1"/><circle cx="335.3" cy="534.5" r="12.1"/><circle cx="307.7" cy="553.4" r="12.1"/><circle cx="291.8" cy="528.7" r="12.1"/><circle cx="275.8" cy="549" r="12.1"/><circle cx="230.9" cy="533" r="12.1"/><circle cx="422.3" cy="534.5" r="12.1"/><circle cx="391.8" cy="599.8" r="12.1"/><circle cx="280.2" cy="656.3" r="12.1"/><circle cx="306.3" cy="691.1" r="12.1"/></g><g fill="#d62728" fill-opacity=".5" stroke="#000" stroke-opacity=".5" stroke-width="7.5"><circle cx="856.4" cy="761" r="12.1"/><circle cx="729.1" cy="757.4" r="12.1"/><circle cx="769.9" cy="772.8" r="12.1"/><circle cx="704.1" cy="777.8" r="12.1"/><circle cx="759.2" cy="755.1" r="12.1"/><circle cx="505.1" cy="749.5" r="12.1"/><circle cx="665.3" cy="770.4" r="12.1"/><circle cx="839" cy="779.6" r="12.1"/><circle cx="625.3" cy="763.7" r="12.1"/><circle cx="515.4" cy="770.1" r="12.1"/><circle cx="519.5" cy="762" r="12.1"/><circle cx="541.5" cy="759.4" r="12.1"/><circle cx="765.7" cy="756" r="12.1"/><circle cx="809.5" cy="742.1" r="12.1"/><circle cx="354.3" cy="726.4" r="12.1"/><circle cx="709.8" cy="734.2" r="12.1"/><circle cx="788.8" cy="769.2" r="12.1"/><circle cx="568.9" cy="757.7" r="12.1"/><circle cx="677.3" cy="750.5" r="12.1"/><circle cx="623.8" cy="758.9" r="12.1"/><circle cx="810.6" cy="752.2" r="12.1"/><circle cx="628.4" cy="741.6" r="12.1"/><circle cx="407.3" cy="735.4" r="12.1"/><circle cx="809.5" cy="748.9" r="12.1"/><circle cx="589.1" cy="748.8" r="12.1"/><circle cx="835.6" cy="785.7" r="12.1"/><circle cx="494.8" cy="733.7" r="12.1"/><circle cx="593.3" cy="747" r="12.1"/><circle cx="571.8" cy="744.1" r="12.1"/><circle cx="579" cy="734.4" r="12.1"/><circle cx="572.2" cy="759" r="12.1"/><circle cx="558.5" cy="768.8" r="12.1"/><circle cx="566.8" cy="726.6" r="12.1"/><circle cx="787.9" cy="770.2" r="12.1"/><circle cx="603.4" cy="769.5" r="12.1"/><circle cx="779.7" cy="764.3" r="12.1"/><circle cx="520.5" cy="725.3" r="12.1"/><circle cx="645.6" cy="743.2" r="12.1"/><circle cx="491.6" cy="730.8" r="12.1"/><circle cx="783.3" cy="761.4" r="12.1"/><circle cx="361.9" cy="741.7" r="12.1"/><circle cx="446.5" cy="741.1" r="12.1"/><circle cx="381.6" cy="740.1" r="12.1"/><circle cx="673.9" cy="764.9" r="12.1"/><circle cx="648.7" cy="760.2" r="12.1"/><circle cx="610.6" cy="753.7" r="12.1"/><circle cx="740.7" cy="756.7" r="12.1"/><circle cx="841.7" cy="748.1" r="12.1"/><circle cx="775.8" cy="751.4" r="12.1"/><circle cx="795.9" cy="757.7" r="12.1"/><circle cx="799.6" cy="750" r="12.1"/><circle cx="614.3" cy="739.4" r="12.1"/><circle cx="744.7" cy="740" r="12.1"/><circle cx="628.6" cy="741.8" r="12.1"/><circle cx="651.5" cy="740.4" r="12.1"/><circle cx="673.1" cy="731.7" r="12.1"/><circle cx="763.4" cy="776" r="12.1"/><circle cx="764.5" cy="764.4" r="12.1"/><circle cx="505.6" cy="748.3" r="12.1"/><circle cx="754.9" cy="769.5" r="12.1"/><circle cx="714.7" cy="761.3" r="12.1"/><circle cx="831.9" cy="747.3" r="12.1"/><circle cx="588.6" cy="725.1" r="12.1"/><circle cx="539.7" cy="758.9" r="12.1"/><circle cx="557.2" cy="730.3" r="12.1"/><circle cx="765.7" cy="777.2" r="12.1"/><circle cx="444.8" cy="730.4" r="12.1"/><circle cx="854.9" cy="760.7" r="12.1"/><circle cx="360.3" cy="742.9" r="12.1"/><circle cx="811.9" cy="750.9" r="12.1"/><circle cx="789.4" cy="753.3" r="12.1"/><circle cx="707.8" cy="772.5" r="12.1"/><circle cx="468.8" cy="742.3" r="12.1"/><circle cx="761.8" cy="777.5" r="12.1"/><circle cx="614" cy="739" r="12.1"/><circle cx="848.7" cy="751.6" r="12.1"/><circle cx="831.7" cy="754.9" r="12.1"/><circle cx="453.9" cy="734.9" r="12.1"/><circle cx="599.6" cy="770.4" r="12.1"/><circle cx="742.3" cy="775.5" r="12.1"/><circle cx="752.3" cy="743.4" r="12.1"/><circle cx="702.2" cy="761.5" r="12.1"/><circle cx="693.8" cy="774.8" r="12.1"/><circle cx="620.7" cy="753.8" r="12.1"/><circle cx="735.6" cy="780.1" r="12.1"/><circle cx="434.4" cy="731.4" r="12.1"/><circle cx="530.1" cy="752.3" r="12.1"/><circle cx="574.6" cy="750.7" r="12.1"/><circle cx="515.5" cy="743.2" r="12.1"/><circle cx="590" cy="742.6" r="12.1"/><circle cx="612.1" cy="774" r="12.1"/><circle cx="534.8" cy="771.9" r="12.1"/><circle cx="857.8" cy="780.5" r="12.1"/><circle cx="754.9" cy="759" r="12.1"/><circle cx="838.3" cy="772.9" r="12.1"/><circle cx="391.4" cy="744.7" r="12.1"/><circle cx="723.1" cy="745.5" r="12.1"/><circle cx="825.5" cy="770.9" r="12.1"/><circle cx="829.4" cy="772.6" r="12.1"/><circle cx="816.7" cy="770.3" r="12.1"/><circle cx="382.4" cy="720.2" r="12.1"/><circle cx="596.3" cy="749.8" r="12.1"/><circle cx="553.7" cy="734.4" r="12.1"/><circle cx="627.9" cy="734.1" r="12.1"/><circle cx="799.9" cy="787.8" r="12.1"/><circle cx="695.3" cy="744" r="12.1"/><circle cx="620.4" cy="745.2" r="12.1"/><circle cx="766.1" cy="763" r="12.1"/><circle cx="713.8" cy="747.6" r="12.1"/><circle cx="825.9" cy="767.8" r="12.1"/><circle cx="800.3" cy="765" r="12.1"/><circle cx="764.7" cy="771.6" r="12.1"/><circle cx="556.7" cy="753.9" r="12.1"/><circle cx="729.2" cy="772.6" r="12.1"/><circle cx="1058" cy="738.9" r="12.1"/><circle cx="1082.5" cy="740.2" r="12.1"/><circle cx="1151.8" cy="750.3" r="12.1"/><circle cx="1113.7" cy="765.3" r="12.1"/><circle cx="1272.8" cy="757.1" r="12.1"/><circle cx="1058" cy="785.6" r="12.1"/><circle cx="1105.6" cy="792.4" r="12.1"/><circle cx="1111" cy="806" r="12.1"/><circle cx="1105.6" cy="829.1" r="12.1"/><circle cx="1105.6" cy="829.1" r="12.1"/><circle cx="1230.6" cy="821" r="12.1"/><circle cx="1245.6" cy="816.9" r="12.1"/><circle cx="1246.4" cy="833.2" r="12.1"/><circle cx="1024" cy="765.3" r="12.1"/><circle cx="1011.8" cy="806" r="12.1"/><circle cx="1011.8" cy="821" r="12.1"/><circle cx="971" cy="811.5" r="12.1"/><circle cx="969.6" cy="768" r="12.1"/><circle cx="946.5" cy="773.4" r="12.1"/><circle cx="916.6" cy="787" r="12.1"/><circle cx="908.5" cy="735.3" r="12.1"/><circle cx="878.5" cy="738.1" r="12.1"/><circle cx="873.1" cy="808.8" r="12.1"/><circle cx="869" cy="772" r="12.1"/><circle cx="977.8" cy="792.4" r="12.1"/><circle cx="1462.1" cy="760.9" r="12.1"/><circle cx="1597" cy="887" r="12.1"/><circle cx="349" cy="737.3" r="12.1"/><circle cx="731" cy="723" r="12.1"/><circle cx="752" cy="725" r="12.1"/><circle cx="818.7" cy="726.8" r="12.1"/><circle cx="836" cy="728.5" r="12.1"/><circle cx="717" cy="795" r="12.1"/><circle cx="738" cy="795" r="12.1"/><circle cx="797.6" cy="802" r="12.1"/><circle cx="864" cy="809" r="12.1"/></g><g transform="translate(331.60 345.00) rotate(81.132)" fill="none" stroke-opacity="0.75" stroke-width="11.3"><ellipse cx="0" cy="0" rx="319.95" ry="140.95" stroke="#472d7b"/><ellipse cx="0" cy="0" rx="256.83" ry="113.14" stroke="#3b528b"/><ellipse cx="0" cy="0" rx="211.34" ry="93.10" stroke="#2c728e"/><ellipse cx="0" cy="0" rx="171.91" ry="75.73" stroke="#21918c"/><ellipse cx="0" cy="0" rx="133.53" ry="58.83" stroke="#28ae80"/><ellipse cx="0" cy="0" rx="90.85" ry="40.02" stroke="#5ec962"/><ellipse cx="0" cy="0" rx="12.54" ry="5.53" stroke="#addc30"/></g><g transform="translate(732.50 760.50) rotate(-175.608)" fill="none" stroke-opacity="0.75" stroke-width="11.3"><ellipse cx="0" cy="0" rx="458.17" ry="38.71" stroke="#4c02a1"/><ellipse cx="0" cy="0" rx="370.43" ry="31.30" stroke="#7e03a8"/><ellipse cx="0" cy="0" rx="307.72" ry="26.00" stroke="#aa2395"/><ellipse cx="0" cy="0" rx="254.01" ry="21.46" stroke="#cc4778"/><ellipse cx="0" cy="0" rx="202.78" ry="17.13" stroke="#e66c5c"/><ellipse cx="0" cy="0" rx="148.31" ry="12.53" stroke="#f89540"/><ellipse cx="0" cy="0" rx="76.34" ry="6.45" stroke="#fdc527"/></g></g><path d="M202.9 724.57 L1608.6 663.44" stroke="#000" stroke-width="11.7" fill="none"/></g></g><g font-family="'Liberation Serif', 'DejaVu Serif', serif" fill="#000"><rect x="212.95" y="28.00" width="1385.65" height="860.60" fill="none" stroke="#000" stroke-width="6.0"/><path d="M283.7 888.6V915.6M596.7 888.6V915.6M909.8 888.6V915.6M1222.6 888.6V915.6M1535.8 888.6V915.6M212.9 148.0H185.9M212.9 342.5H185.9M212.9 537.6H185.9M212.9 732.3H185.9" stroke="#000" stroke-width="6.0" fill="none"/><text x="160.0" y="176.6" text-anchor="end" font-size="82">7</text><text x="160.0" y="371.1" text-anchor="end" font-size="82">6</text><text x="160.0" y="566.2" text-anchor="end" font-size="82">5</text><text x="160.0" y="760.9" text-anchor="end" font-size="82">4</text><text transform="translate(70.6 458.3) rotate(-90)" text-anchor="middle" font-size="100" textLength="352" lengthAdjust="spacingAndGlyphs">distance</text><rect x="212.95" y="955.20" width="1385.65" height="860.60" fill="none" stroke="#000" stroke-width="6.0"/><path d="M283.7 1815.8V1842.8M596.7 1815.8V1842.8M909.8 1815.8V1842.8M1222.6 1815.8V1842.8M1535.8 1815.8V1842.8M212.9 1075.2H185.9M212.9 1269.7H185.9M212.9 1464.8H185.9M212.9 1659.5H185.9" stroke="#000" stroke-width="6.0" fill="none"/><text x="160.0" y="1103.8" text-anchor="end" font-size="82">7</text><text x="160.0" y="1298.3" text-anchor="end" font-size="82">6</text><text x="160.0" y="1493.4" text-anchor="end" font-size="82">5</text><text x="160.0" y="1688.1" text-anchor="end" font-size="82">4</text><text x="283.7" y="1926.0" text-anchor="middle" font-size="82">0.0</text><text x="596.7" y="1926.0" text-anchor="middle" font-size="82">0.2</text><text x="909.8" y="1926.0" text-anchor="middle" font-size="82">0.4</text><text x="1222.6" y="1926.0" text-anchor="middle" font-size="82">0.6</text><text x="1535.8" y="1926.0" text-anchor="middle" font-size="82">0.8</text><text transform="translate(70.6 1385.5) rotate(-90)" text-anchor="middle" font-size="100" textLength="352" lengthAdjust="spacingAndGlyphs">distance</text><text x="905.8" y="2040.0" text-anchor="middle" font-size="100" textLength="172.5" lengthAdjust="spacingAndGlyphs">rate</text></g></svg></body></html>
